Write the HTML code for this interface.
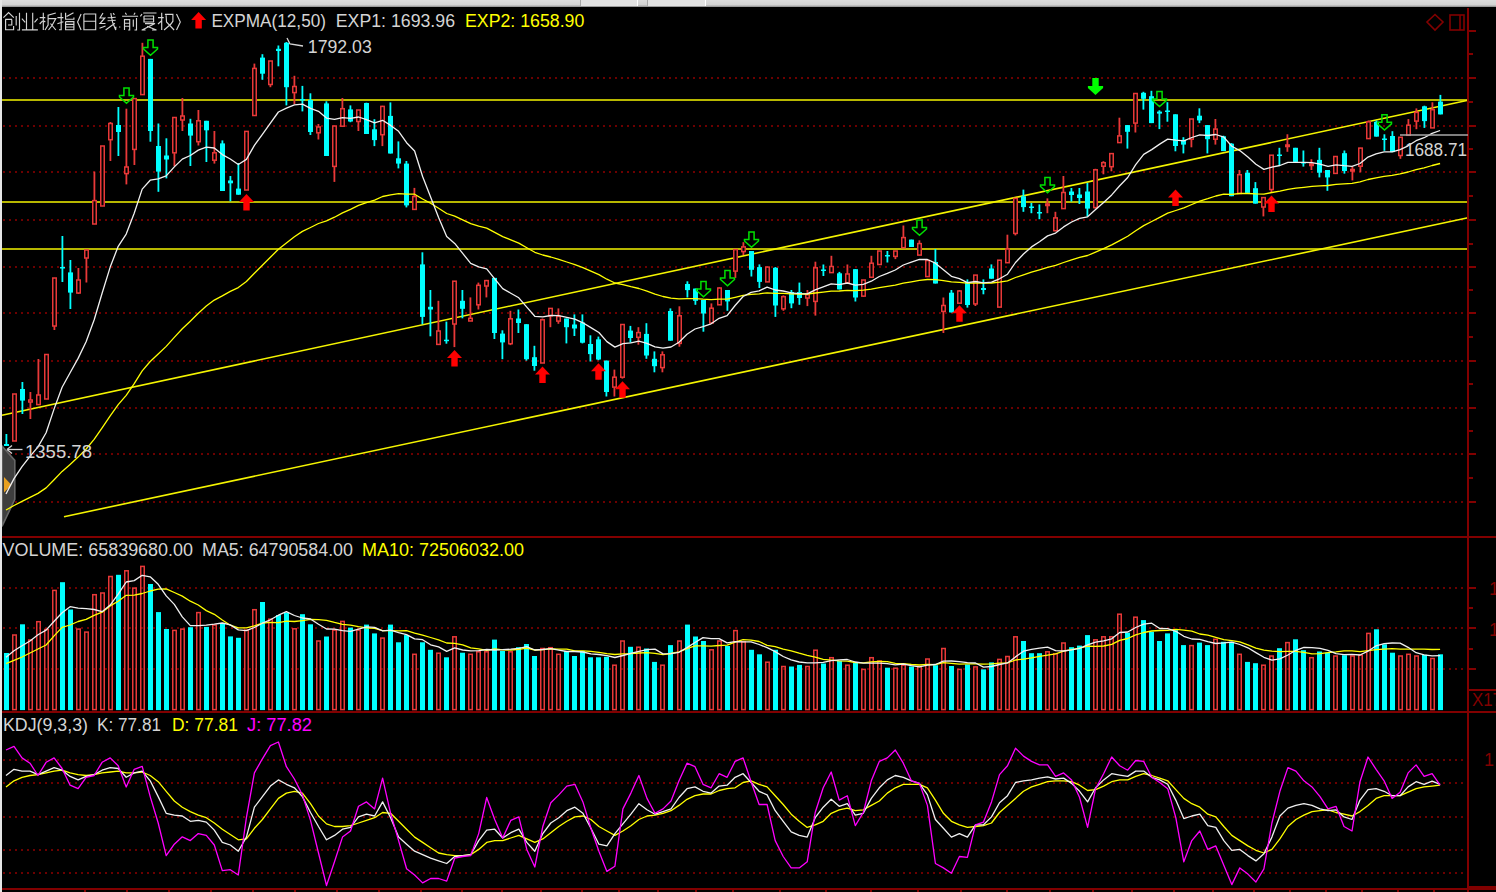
<!DOCTYPE html>
<html><head><meta charset="utf-8"><style>
html,body{margin:0;padding:0;background:#000;overflow:hidden;}
svg{display:block;}
</style></head><body>
<svg width="1496" height="892" viewBox="0 0 1496 892">
<defs><linearGradient id="topg" x1="0" y1="0" x2="0" y2="1"><stop offset="0" stop-color="#dcdcdc"/><stop offset="0.7" stop-color="#d2d2d2"/><stop offset="1" stop-color="#8a8a8a"/></linearGradient></defs>
<rect x="0" y="0" width="1496" height="892" fill="#000"/>
<g shape-rendering="crispEdges"><line x1="3" y1="78" x2="1466" y2="78" stroke="#6c0000" stroke-width="2" stroke-dasharray="2 4"/><line x1="3" y1="126" x2="1466" y2="126" stroke="#6c0000" stroke-width="2" stroke-dasharray="2 4"/><line x1="3" y1="172" x2="1466" y2="172" stroke="#6c0000" stroke-width="2" stroke-dasharray="2 4"/><line x1="3" y1="220" x2="1466" y2="220" stroke="#6c0000" stroke-width="2" stroke-dasharray="2 4"/><line x1="3" y1="267" x2="1466" y2="267" stroke="#6c0000" stroke-width="2" stroke-dasharray="2 4"/><line x1="3" y1="313" x2="1466" y2="313" stroke="#6c0000" stroke-width="2" stroke-dasharray="2 4"/><line x1="3" y1="361" x2="1466" y2="361" stroke="#6c0000" stroke-width="2" stroke-dasharray="2 4"/><line x1="3" y1="408" x2="1466" y2="408" stroke="#6c0000" stroke-width="2" stroke-dasharray="2 4"/><line x1="3" y1="454" x2="1466" y2="454" stroke="#6c0000" stroke-width="2" stroke-dasharray="2 4"/><line x1="3" y1="502" x2="1466" y2="502" stroke="#6c0000" stroke-width="2" stroke-dasharray="2 4"/><line x1="3" y1="588" x2="1466" y2="588" stroke="#6c0000" stroke-width="2" stroke-dasharray="2 4"/><line x1="3" y1="628" x2="1466" y2="628" stroke="#6c0000" stroke-width="2" stroke-dasharray="2 4"/><line x1="3" y1="669" x2="1466" y2="669" stroke="#6c0000" stroke-width="2" stroke-dasharray="2 4"/><line x1="3" y1="760" x2="1466" y2="760" stroke="#6c0000" stroke-width="2" stroke-dasharray="2 4"/><line x1="3" y1="783" x2="1466" y2="783" stroke="#6c0000" stroke-width="2" stroke-dasharray="2 4"/><line x1="3" y1="817" x2="1466" y2="817" stroke="#6c0000" stroke-width="2" stroke-dasharray="2 4"/><line x1="3" y1="850" x2="1466" y2="850" stroke="#6c0000" stroke-width="2" stroke-dasharray="2 4"/><line x1="3" y1="873" x2="1466" y2="873" stroke="#6c0000" stroke-width="2" stroke-dasharray="2 4"/></g>
<path d="M2,446 L14.8,460.4 L14.8,499.4 L2,526.3 Z" fill="#3e3e3e" stroke="#666" stroke-width="1.6"/>
<path d="M4,477 L11.5,485 L4,492.5 Z" fill="#e8a020"/>
<g><line x1="2" y1="100" x2="1468" y2="100" stroke="#f4f400" stroke-width="1.7"/><line x1="2" y1="202" x2="1468" y2="202" stroke="#f4f400" stroke-width="1.7"/><line x1="2" y1="249" x2="1468" y2="249" stroke="#f4f400" stroke-width="1.7"/></g>
<line x1="2" y1="415.2" x2="1468" y2="100.2" stroke="#f4f400" stroke-width="1.6"/>
<line x1="64" y1="516.7" x2="1468" y2="217.8" stroke="#f4f400" stroke-width="1.6"/>
<g><rect x="5.5" y="434.0" width="1.8" height="12.0" fill="#00ffff"/><rect x="4" y="444.0" width="5" height="2.0" fill="#00ffff"/><rect x="13.5" y="394.0" width="1.8" height="47.0" fill="#e83838"/><rect x="12.75" y="394.0" width="3.5" height="47.0" fill="#000" stroke="#e83838" stroke-width="1.5"/><rect x="21.5" y="382.0" width="1.8" height="32.0" fill="#00ffff"/><rect x="20" y="389.0" width="5" height="11.6" fill="#00ffff"/><rect x="29.5" y="392.0" width="1.8" height="27.0" fill="#e83838"/><rect x="28.75" y="400.0" width="3.5" height="2.0" fill="#000" stroke="#e83838" stroke-width="1.5"/><rect x="37.5" y="359.0" width="1.8" height="45.6" fill="#e83838"/><rect x="36.75" y="395.0" width="3.5" height="9.6" fill="#000" stroke="#e83838" stroke-width="1.5"/><rect x="45.5" y="354.5" width="1.8" height="44.5" fill="#e83838"/><rect x="44.75" y="354.5" width="3.5" height="44.5" fill="#000" stroke="#e83838" stroke-width="1.5"/><rect x="53.5" y="278.0" width="1.8" height="52.0" fill="#e83838"/><rect x="52.75" y="278.0" width="3.5" height="48.0" fill="#000" stroke="#e83838" stroke-width="1.5"/><rect x="61.5" y="236.0" width="1.8" height="46.0" fill="#00ffff"/><rect x="60" y="267.0" width="5" height="1.5" fill="#00ffff"/><rect x="69.5" y="260.0" width="1.8" height="49.0" fill="#00ffff"/><rect x="68" y="272.4" width="5" height="20.2" fill="#00ffff"/><rect x="77.5" y="268.0" width="1.8" height="26.0" fill="#e83838"/><rect x="76.75" y="280.0" width="3.5" height="13.0" fill="#000" stroke="#e83838" stroke-width="1.5"/><rect x="85.5" y="250.0" width="1.8" height="32.5" fill="#e83838"/><rect x="84.75" y="250.0" width="3.5" height="8.0" fill="#000" stroke="#e83838" stroke-width="1.5"/><rect x="93.5" y="171.6" width="1.8" height="52.4" fill="#e83838"/><rect x="92.75" y="200.6" width="3.5" height="23.4" fill="#000" stroke="#e83838" stroke-width="1.5"/><rect x="101.5" y="146.0" width="1.8" height="60.0" fill="#e83838"/><rect x="100.75" y="146.0" width="3.5" height="60.0" fill="#000" stroke="#e83838" stroke-width="1.5"/><rect x="109.5" y="122.0" width="1.8" height="39.0" fill="#e83838"/><rect x="108.75" y="123.5" width="3.5" height="16.2" fill="#000" stroke="#e83838" stroke-width="1.5"/><rect x="117.5" y="107.0" width="1.8" height="49.0" fill="#00ffff"/><rect x="116" y="125.0" width="5" height="7.0" fill="#00ffff"/><rect x="125.5" y="108.7" width="1.8" height="75.7" fill="#e83838"/><rect x="124.75" y="167.0" width="3.5" height="6.6" fill="#000" stroke="#e83838" stroke-width="1.5"/><rect x="133.5" y="98.6" width="1.8" height="66.4" fill="#e83838"/><rect x="132.75" y="98.6" width="3.5" height="50.8" fill="#000" stroke="#e83838" stroke-width="1.5"/><rect x="141.5" y="42.8" width="1.8" height="51.8" fill="#e83838"/><rect x="140.75" y="56.2" width="3.5" height="38.4" fill="#000" stroke="#e83838" stroke-width="1.5"/><rect x="149.5" y="58.9" width="1.8" height="82.8" fill="#00ffff"/><rect x="148" y="58.9" width="5" height="72.1" fill="#00ffff"/><rect x="157.5" y="123.5" width="1.8" height="68.3" fill="#00ffff"/><rect x="156" y="146.0" width="5" height="25.6" fill="#00ffff"/><rect x="165.5" y="138.3" width="1.8" height="40.1" fill="#00ffff"/><rect x="164" y="155.5" width="5" height="4.0" fill="#00ffff"/><rect x="173.5" y="117.5" width="1.8" height="48.7" fill="#e83838"/><rect x="172.75" y="117.5" width="3.5" height="35.3" fill="#000" stroke="#e83838" stroke-width="1.5"/><rect x="181.5" y="98.0" width="1.8" height="33.0" fill="#e83838"/><rect x="180.75" y="116.0" width="3.5" height="4.0" fill="#000" stroke="#e83838" stroke-width="1.5"/><rect x="189.5" y="118.8" width="1.8" height="47.2" fill="#00ffff"/><rect x="188" y="123.5" width="5" height="12.1" fill="#00ffff"/><rect x="197.5" y="110.0" width="1.8" height="35.5" fill="#e83838"/><rect x="196.75" y="120.8" width="3.5" height="20.9" fill="#000" stroke="#e83838" stroke-width="1.5"/><rect x="205.5" y="120.8" width="1.8" height="41.2" fill="#00ffff"/><rect x="204" y="120.8" width="5" height="9.5" fill="#00ffff"/><rect x="213.5" y="131.0" width="1.8" height="32.6" fill="#e83838"/><rect x="212.75" y="152.8" width="3.5" height="7.4" fill="#000" stroke="#e83838" stroke-width="1.5"/><rect x="221.5" y="140.4" width="1.8" height="50.6" fill="#00ffff"/><rect x="220" y="143.4" width="5" height="47.6" fill="#00ffff"/><rect x="229.5" y="176.0" width="1.8" height="25.3" fill="#00ffff"/><rect x="228" y="180.5" width="5" height="2.8" fill="#00ffff"/><rect x="237.5" y="163.0" width="1.8" height="31.7" fill="#00ffff"/><rect x="236" y="188.6" width="5" height="6.1" fill="#00ffff"/><rect x="245.5" y="131.4" width="1.8" height="58.6" fill="#e83838"/><rect x="244.75" y="131.4" width="3.5" height="58.6" fill="#000" stroke="#e83838" stroke-width="1.5"/><rect x="253.5" y="63.6" width="1.8" height="51.9" fill="#e83838"/><rect x="252.75" y="68.4" width="3.5" height="47.1" fill="#000" stroke="#e83838" stroke-width="1.5"/><rect x="261.5" y="54.2" width="1.8" height="25.6" fill="#00ffff"/><rect x="260" y="57.6" width="5" height="16.1" fill="#00ffff"/><rect x="269.5" y="61.0" width="1.8" height="26.2" fill="#e83838"/><rect x="268.75" y="61.0" width="3.5" height="23.5" fill="#000" stroke="#e83838" stroke-width="1.5"/><rect x="277.5" y="45.5" width="1.8" height="20.8" fill="#00ffff"/><rect x="276" y="48.8" width="5" height="2.2" fill="#00ffff"/><rect x="285.5" y="42.0" width="1.8" height="63.4" fill="#00ffff"/><rect x="284" y="42.8" width="5" height="44.4" fill="#00ffff"/><rect x="293.5" y="75.8" width="1.8" height="28.2" fill="#e83838"/><rect x="292.75" y="86.5" width="3.5" height="6.1" fill="#000" stroke="#e83838" stroke-width="1.5"/><rect x="301.5" y="85.9" width="1.8" height="25.5" fill="#00ffff"/><rect x="300" y="99.0" width="5" height="1.5" fill="#00ffff"/><rect x="309.5" y="93.3" width="1.8" height="41.7" fill="#00ffff"/><rect x="308" y="100.0" width="5" height="32.0" fill="#00ffff"/><rect x="317.5" y="124.0" width="1.8" height="15.5" fill="#e83838"/><rect x="316.75" y="127.0" width="3.5" height="5.8" fill="#000" stroke="#e83838" stroke-width="1.5"/><rect x="325.5" y="101.3" width="1.8" height="54.7" fill="#00ffff"/><rect x="324" y="103.4" width="5" height="52.6" fill="#00ffff"/><rect x="333.5" y="126.0" width="1.8" height="55.9" fill="#e83838"/><rect x="332.75" y="126.0" width="3.5" height="40.4" fill="#000" stroke="#e83838" stroke-width="1.5"/><rect x="341.5" y="98.0" width="1.8" height="28.2" fill="#e83838"/><rect x="340.75" y="108.7" width="3.5" height="17.5" fill="#000" stroke="#e83838" stroke-width="1.5"/><rect x="349.5" y="105.4" width="1.8" height="16.8" fill="#00ffff"/><rect x="348" y="109.4" width="5" height="12.1" fill="#00ffff"/><rect x="357.5" y="110.0" width="1.8" height="21.0" fill="#e83838"/><rect x="356.75" y="110.0" width="3.5" height="11.5" fill="#000" stroke="#e83838" stroke-width="1.5"/><rect x="365.5" y="102.7" width="1.8" height="31.3" fill="#00ffff"/><rect x="364" y="103.0" width="5" height="31.0" fill="#00ffff"/><rect x="373.5" y="119.2" width="1.8" height="26.9" fill="#00ffff"/><rect x="372" y="129.3" width="5" height="10.8" fill="#00ffff"/><rect x="381.5" y="105.8" width="1.8" height="40.3" fill="#e83838"/><rect x="380.75" y="106.4" width="3.5" height="28.3" fill="#000" stroke="#e83838" stroke-width="1.5"/><rect x="389.5" y="102.4" width="1.8" height="51.1" fill="#00ffff"/><rect x="388" y="115.9" width="5" height="37.6" fill="#00ffff"/><rect x="397.5" y="141.4" width="1.8" height="27.0" fill="#00ffff"/><rect x="396" y="158.3" width="5" height="5.3" fill="#00ffff"/><rect x="405.5" y="161.0" width="1.8" height="46.4" fill="#00ffff"/><rect x="404" y="163.6" width="5" height="41.8" fill="#00ffff"/><rect x="413.5" y="187.9" width="1.8" height="22.1" fill="#e83838"/><rect x="412.75" y="196.6" width="3.5" height="12.8" fill="#000" stroke="#e83838" stroke-width="1.5"/><rect x="421.5" y="252.3" width="1.8" height="72.0" fill="#00ffff"/><rect x="420" y="264.4" width="5" height="52.5" fill="#00ffff"/><rect x="429.5" y="290.0" width="1.8" height="46.3" fill="#00ffff"/><rect x="428" y="306.8" width="5" height="2.7" fill="#00ffff"/><rect x="437.5" y="300.8" width="1.8" height="43.6" fill="#e83838"/><rect x="436.75" y="331.0" width="3.5" height="13.4" fill="#000" stroke="#e83838" stroke-width="1.5"/><rect x="445.5" y="321.6" width="1.8" height="22.1" fill="#00ffff"/><rect x="444" y="339.7" width="5" height="1.5" fill="#00ffff"/><rect x="453.5" y="281.2" width="1.8" height="65.9" fill="#e83838"/><rect x="452.75" y="281.2" width="3.5" height="42.8" fill="#000" stroke="#e83838" stroke-width="1.5"/><rect x="461.5" y="290.0" width="1.8" height="28.3" fill="#00ffff"/><rect x="460" y="300.8" width="5" height="8.0" fill="#00ffff"/><rect x="469.5" y="297.4" width="1.8" height="23.6" fill="#e83838"/><rect x="468.75" y="318.3" width="3.5" height="2.7" fill="#000" stroke="#e83838" stroke-width="1.5"/><rect x="477.5" y="282.6" width="1.8" height="26.9" fill="#e83838"/><rect x="476.75" y="285.3" width="3.5" height="19.5" fill="#000" stroke="#e83838" stroke-width="1.5"/><rect x="485.5" y="279.9" width="1.8" height="17.5" fill="#e83838"/><rect x="484.75" y="280.6" width="3.5" height="5.4" fill="#000" stroke="#e83838" stroke-width="1.5"/><rect x="493.5" y="277.9" width="1.8" height="61.1" fill="#00ffff"/><rect x="492" y="277.9" width="5" height="55.1" fill="#00ffff"/><rect x="501.5" y="330.3" width="1.8" height="28.9" fill="#00ffff"/><rect x="500" y="333.6" width="5" height="8.8" fill="#00ffff"/><rect x="509.5" y="310.8" width="1.8" height="34.3" fill="#e83838"/><rect x="508.75" y="318.8" width="3.5" height="24.9" fill="#000" stroke="#e83838" stroke-width="1.5"/><rect x="517.5" y="309.5" width="1.8" height="23.5" fill="#00ffff"/><rect x="516" y="318.5" width="5" height="4.5" fill="#00ffff"/><rect x="525.5" y="324.2" width="1.8" height="36.4" fill="#00ffff"/><rect x="524" y="324.2" width="5" height="35.0" fill="#00ffff"/><rect x="533.5" y="345.8" width="1.8" height="24.9" fill="#00ffff"/><rect x="532" y="357.2" width="5" height="8.8" fill="#00ffff"/><rect x="541.5" y="318.5" width="1.8" height="44.5" fill="#e83838"/><rect x="540.75" y="319.8" width="3.5" height="43.2" fill="#000" stroke="#e83838" stroke-width="1.5"/><rect x="549.5" y="308.4" width="1.8" height="18.8" fill="#e83838"/><rect x="548.75" y="308.4" width="3.5" height="7.4" fill="#000" stroke="#e83838" stroke-width="1.5"/><rect x="557.5" y="308.4" width="1.8" height="15.4" fill="#e83838"/><rect x="556.75" y="316.4" width="3.5" height="4.7" fill="#000" stroke="#e83838" stroke-width="1.5"/><rect x="565.5" y="318.5" width="1.8" height="24.9" fill="#00ffff"/><rect x="564" y="318.5" width="5" height="8.7" fill="#00ffff"/><rect x="573.5" y="314.4" width="1.8" height="21.6" fill="#00ffff"/><rect x="572" y="324.5" width="5" height="4.0" fill="#00ffff"/><rect x="581.5" y="314.4" width="1.8" height="29.0" fill="#00ffff"/><rect x="580" y="322.5" width="5" height="20.2" fill="#00ffff"/><rect x="589.5" y="335.3" width="1.8" height="26.2" fill="#00ffff"/><rect x="588" y="344.0" width="5" height="10.1" fill="#00ffff"/><rect x="597.5" y="336.6" width="1.8" height="23.6" fill="#00ffff"/><rect x="596" y="339.3" width="5" height="20.2" fill="#00ffff"/><rect x="605.5" y="360.6" width="1.8" height="35.9" fill="#00ffff"/><rect x="604" y="360.6" width="5" height="31.4" fill="#00ffff"/><rect x="613.5" y="369.6" width="1.8" height="26.9" fill="#e83838"/><rect x="612.75" y="377.2" width="3.5" height="9.9" fill="#000" stroke="#e83838" stroke-width="1.5"/><rect x="621.5" y="324.5" width="1.8" height="54.1" fill="#e83838"/><rect x="620.75" y="324.5" width="3.5" height="52.7" fill="#000" stroke="#e83838" stroke-width="1.5"/><rect x="629.5" y="325.9" width="1.8" height="16.8" fill="#00ffff"/><rect x="628" y="330.6" width="5" height="7.4" fill="#00ffff"/><rect x="637.5" y="327.2" width="1.8" height="17.5" fill="#e83838"/><rect x="636.75" y="332.6" width="3.5" height="4.7" fill="#000" stroke="#e83838" stroke-width="1.5"/><rect x="645.5" y="323.2" width="1.8" height="35.6" fill="#00ffff"/><rect x="644" y="333.9" width="5" height="21.6" fill="#00ffff"/><rect x="653.5" y="351.4" width="1.8" height="20.9" fill="#00ffff"/><rect x="652" y="358.8" width="5" height="7.4" fill="#00ffff"/><rect x="661.5" y="351.4" width="1.8" height="20.9" fill="#e83838"/><rect x="660.75" y="354.8" width="3.5" height="12.8" fill="#000" stroke="#e83838" stroke-width="1.5"/><rect x="669.5" y="308.4" width="1.8" height="32.3" fill="#00ffff"/><rect x="668" y="311.0" width="5" height="29.7" fill="#00ffff"/><rect x="678.5" y="306.3" width="1.8" height="40.4" fill="#e83838"/><rect x="677.75" y="315.8" width="3.5" height="27.6" fill="#000" stroke="#e83838" stroke-width="1.5"/><rect x="686.5" y="281.3" width="1.8" height="16.2" fill="#00ffff"/><rect x="685" y="284.0" width="5" height="6.1" fill="#00ffff"/><rect x="694.5" y="288.6" width="1.8" height="16.2" fill="#00ffff"/><rect x="693" y="288.6" width="5" height="12.2" fill="#00ffff"/><rect x="702.5" y="300.0" width="1.8" height="31.7" fill="#00ffff"/><rect x="701" y="300.0" width="5" height="13.5" fill="#00ffff"/><rect x="710.5" y="303.4" width="1.8" height="19.6" fill="#e83838"/><rect x="709.75" y="308.2" width="3.5" height="14.8" fill="#000" stroke="#e83838" stroke-width="1.5"/><rect x="718.5" y="287.3" width="1.8" height="17.5" fill="#e83838"/><rect x="717.75" y="288.0" width="3.5" height="16.8" fill="#000" stroke="#e83838" stroke-width="1.5"/><rect x="726.5" y="290.0" width="1.8" height="20.8" fill="#00ffff"/><rect x="725" y="290.0" width="5" height="11.4" fill="#00ffff"/><rect x="734.5" y="249.6" width="1.8" height="28.3" fill="#e83838"/><rect x="733.75" y="249.6" width="3.5" height="21.5" fill="#000" stroke="#e83838" stroke-width="1.5"/><rect x="742.5" y="242.2" width="1.8" height="12.8" fill="#e83838"/><rect x="741.75" y="246.9" width="3.5" height="4.7" fill="#000" stroke="#e83838" stroke-width="1.5"/><rect x="750.5" y="251.0" width="1.8" height="25.5" fill="#00ffff"/><rect x="749" y="251.0" width="5" height="18.8" fill="#00ffff"/><rect x="758.5" y="264.4" width="1.8" height="23.6" fill="#00ffff"/><rect x="757" y="267.1" width="5" height="14.8" fill="#00ffff"/><rect x="766.5" y="266.4" width="1.8" height="15.5" fill="#e83838"/><rect x="765.75" y="267.1" width="3.5" height="14.8" fill="#000" stroke="#e83838" stroke-width="1.5"/><rect x="774.5" y="267.1" width="1.8" height="49.8" fill="#00ffff"/><rect x="773" y="267.8" width="5" height="37.7" fill="#00ffff"/><rect x="782.5" y="295.4" width="1.8" height="15.4" fill="#e83838"/><rect x="781.75" y="296.7" width="3.5" height="12.1" fill="#000" stroke="#e83838" stroke-width="1.5"/><rect x="790.5" y="290.0" width="1.8" height="18.2" fill="#00ffff"/><rect x="789" y="292.0" width="5" height="11.4" fill="#00ffff"/><rect x="798.5" y="282.6" width="1.8" height="22.2" fill="#00ffff"/><rect x="797" y="292.0" width="5" height="6.0" fill="#00ffff"/><rect x="806.5" y="290.0" width="1.8" height="16.1" fill="#e83838"/><rect x="805.75" y="294.7" width="3.5" height="3.3" fill="#000" stroke="#e83838" stroke-width="1.5"/><rect x="814.5" y="261.7" width="1.8" height="53.9" fill="#e83838"/><rect x="813.75" y="267.8" width="3.5" height="33.6" fill="#000" stroke="#e83838" stroke-width="1.5"/><rect x="822.5" y="264.5" width="1.8" height="11.5" fill="#00ffff"/><rect x="821" y="269.5" width="5" height="1.5" fill="#00ffff"/><rect x="830.5" y="255.8" width="1.8" height="16.8" fill="#e83838"/><rect x="829.75" y="266.5" width="3.5" height="6.1" fill="#000" stroke="#e83838" stroke-width="1.5"/><rect x="838.5" y="271.9" width="1.8" height="17.5" fill="#00ffff"/><rect x="837" y="273.3" width="5" height="16.1" fill="#00ffff"/><rect x="846.5" y="264.5" width="1.8" height="18.2" fill="#e83838"/><rect x="845.75" y="274.0" width="3.5" height="8.7" fill="#000" stroke="#e83838" stroke-width="1.5"/><rect x="854.5" y="269.2" width="1.8" height="32.3" fill="#00ffff"/><rect x="853" y="269.2" width="5" height="28.3" fill="#00ffff"/><rect x="862.5" y="280.0" width="1.8" height="16.8" fill="#e83838"/><rect x="861.75" y="280.0" width="3.5" height="16.1" fill="#000" stroke="#e83838" stroke-width="1.5"/><rect x="870.5" y="255.8" width="1.8" height="21.5" fill="#e83838"/><rect x="869.75" y="263.2" width="3.5" height="14.1" fill="#000" stroke="#e83838" stroke-width="1.5"/><rect x="878.5" y="251.0" width="1.8" height="13.5" fill="#e83838"/><rect x="877.75" y="251.0" width="3.5" height="13.5" fill="#000" stroke="#e83838" stroke-width="1.5"/><rect x="886.5" y="251.0" width="1.8" height="11.5" fill="#00ffff"/><rect x="885" y="255.0" width="5" height="1.5" fill="#00ffff"/><rect x="894.5" y="251.0" width="1.8" height="8.1" fill="#e83838"/><rect x="893.75" y="251.0" width="3.5" height="5.4" fill="#000" stroke="#e83838" stroke-width="1.5"/><rect x="902.5" y="225.5" width="1.8" height="22.2" fill="#e83838"/><rect x="901.75" y="237.6" width="3.5" height="10.1" fill="#000" stroke="#e83838" stroke-width="1.5"/><rect x="910.5" y="239.6" width="1.8" height="7.4" fill="#00ffff"/><rect x="909" y="239.6" width="5" height="7.4" fill="#00ffff"/><rect x="918.5" y="240.3" width="1.8" height="14.8" fill="#e83838"/><rect x="917.75" y="243.6" width="3.5" height="11.5" fill="#000" stroke="#e83838" stroke-width="1.5"/><rect x="926.5" y="260.5" width="1.8" height="16.1" fill="#e83838"/><rect x="925.75" y="260.5" width="3.5" height="16.1" fill="#000" stroke="#e83838" stroke-width="1.5"/><rect x="934.5" y="249.0" width="1.8" height="34.5" fill="#00ffff"/><rect x="933" y="262.0" width="5" height="21.5" fill="#00ffff"/><rect x="942.5" y="297.5" width="1.8" height="35.5" fill="#e83838"/><rect x="941.75" y="305.5" width="3.5" height="5.9" fill="#000" stroke="#e83838" stroke-width="1.5"/><rect x="950.5" y="290.0" width="1.8" height="22.4" fill="#00ffff"/><rect x="949" y="292.7" width="5" height="19.7" fill="#00ffff"/><rect x="958.5" y="290.0" width="1.8" height="13.2" fill="#e83838"/><rect x="957.75" y="291.0" width="3.5" height="12.2" fill="#000" stroke="#e83838" stroke-width="1.5"/><rect x="966.5" y="279.4" width="1.8" height="28.2" fill="#00ffff"/><rect x="965" y="282.0" width="5" height="23.0" fill="#00ffff"/><rect x="974.5" y="275.0" width="1.8" height="31.0" fill="#e83838"/><rect x="973.75" y="275.1" width="3.5" height="28.8" fill="#000" stroke="#e83838" stroke-width="1.5"/><rect x="982.5" y="279.4" width="1.8" height="14.9" fill="#00ffff"/><rect x="981" y="288.0" width="5" height="2.0" fill="#00ffff"/><rect x="990.5" y="264.4" width="1.8" height="14.3" fill="#00ffff"/><rect x="989" y="268.5" width="5" height="10.2" fill="#00ffff"/><rect x="998.5" y="260.2" width="1.8" height="46.9" fill="#e83838"/><rect x="997.75" y="260.2" width="3.5" height="46.9" fill="#000" stroke="#e83838" stroke-width="1.5"/><rect x="1006.5" y="234.7" width="1.8" height="28.0" fill="#e83838"/><rect x="1005.75" y="249.0" width="3.5" height="13.7" fill="#000" stroke="#e83838" stroke-width="1.5"/><rect x="1014.5" y="198.4" width="1.8" height="37.0" fill="#e83838"/><rect x="1013.75" y="198.4" width="3.5" height="35.0" fill="#000" stroke="#e83838" stroke-width="1.5"/><rect x="1022.5" y="189.6" width="1.8" height="22.2" fill="#00ffff"/><rect x="1021" y="196.3" width="5" height="10.8" fill="#00ffff"/><rect x="1030.5" y="203.0" width="1.8" height="10.2" fill="#00ffff"/><rect x="1029" y="206.5" width="5" height="1.5" fill="#00ffff"/><rect x="1038.5" y="204.4" width="1.8" height="14.8" fill="#00ffff"/><rect x="1037" y="212.0" width="5" height="1.5" fill="#00ffff"/><rect x="1046.5" y="198.4" width="1.8" height="14.8" fill="#e83838"/><rect x="1045.75" y="204.0" width="3.5" height="1.5" fill="#000" stroke="#e83838" stroke-width="1.5"/><rect x="1054.5" y="211.8" width="1.8" height="19.5" fill="#e83838"/><rect x="1053.75" y="217.9" width="3.5" height="12.8" fill="#000" stroke="#e83838" stroke-width="1.5"/><rect x="1062.5" y="176.0" width="1.8" height="32.6" fill="#e83838"/><rect x="1061.75" y="192.5" width="3.5" height="16.1" fill="#000" stroke="#e83838" stroke-width="1.5"/><rect x="1070.5" y="188.0" width="1.8" height="13.6" fill="#00ffff"/><rect x="1069" y="191.5" width="5" height="3.5" fill="#00ffff"/><rect x="1078.5" y="188.0" width="1.8" height="16.0" fill="#00ffff"/><rect x="1077" y="194.5" width="5" height="3.5" fill="#00ffff"/><rect x="1086.5" y="182.9" width="1.8" height="33.8" fill="#00ffff"/><rect x="1085" y="191.5" width="5" height="17.1" fill="#00ffff"/><rect x="1094.5" y="168.8" width="1.8" height="39.8" fill="#e83838"/><rect x="1093.75" y="169.8" width="3.5" height="37.8" fill="#000" stroke="#e83838" stroke-width="1.5"/><rect x="1102.5" y="161.2" width="1.8" height="13.1" fill="#e83838"/><rect x="1101.75" y="162.7" width="3.5" height="3.5" fill="#000" stroke="#e83838" stroke-width="1.5"/><rect x="1110.5" y="153.6" width="1.8" height="17.7" fill="#e83838"/><rect x="1109.75" y="153.6" width="3.5" height="13.1" fill="#000" stroke="#e83838" stroke-width="1.5"/><rect x="1118.5" y="117.7" width="1.8" height="24.9" fill="#e83838"/><rect x="1117.75" y="135.9" width="3.5" height="6.7" fill="#000" stroke="#e83838" stroke-width="1.5"/><rect x="1126.5" y="125.1" width="1.8" height="23.5" fill="#00ffff"/><rect x="1125" y="125.1" width="5" height="6.7" fill="#00ffff"/><rect x="1134.5" y="93.5" width="1.8" height="39.0" fill="#e83838"/><rect x="1133.75" y="93.5" width="3.5" height="29.6" fill="#000" stroke="#e83838" stroke-width="1.5"/><rect x="1142.5" y="91.8" width="1.8" height="17.8" fill="#00ffff"/><rect x="1141" y="92.8" width="5" height="6.0" fill="#00ffff"/><rect x="1150.5" y="90.8" width="1.8" height="32.3" fill="#00ffff"/><rect x="1149" y="96.2" width="5" height="26.9" fill="#00ffff"/><rect x="1158.5" y="110.3" width="1.8" height="18.8" fill="#00ffff"/><rect x="1157" y="111.6" width="5" height="2.0" fill="#00ffff"/><rect x="1166.5" y="102.2" width="1.8" height="19.5" fill="#00ffff"/><rect x="1165" y="110.5" width="5" height="1.5" fill="#00ffff"/><rect x="1174.5" y="114.3" width="1.8" height="37.0" fill="#00ffff"/><rect x="1173" y="114.3" width="5" height="31.7" fill="#00ffff"/><rect x="1182.5" y="137.2" width="1.8" height="16.2" fill="#00ffff"/><rect x="1181" y="139.9" width="5" height="4.7" fill="#00ffff"/><rect x="1190.5" y="119.0" width="1.8" height="28.3" fill="#e83838"/><rect x="1189.75" y="119.0" width="3.5" height="20.2" fill="#000" stroke="#e83838" stroke-width="1.5"/><rect x="1198.5" y="108.3" width="1.8" height="14.8" fill="#00ffff"/><rect x="1197" y="115.7" width="5" height="4.7" fill="#00ffff"/><rect x="1206.5" y="125.1" width="1.8" height="28.3" fill="#00ffff"/><rect x="1205" y="125.1" width="5" height="14.1" fill="#00ffff"/><rect x="1214.5" y="119.0" width="1.8" height="25.6" fill="#e83838"/><rect x="1213.75" y="129.1" width="3.5" height="10.1" fill="#000" stroke="#e83838" stroke-width="1.5"/><rect x="1222.5" y="135.7" width="1.8" height="15.4" fill="#00ffff"/><rect x="1221" y="136.3" width="5" height="14.8" fill="#00ffff"/><rect x="1230.5" y="143.1" width="1.8" height="53.1" fill="#00ffff"/><rect x="1229" y="143.7" width="5" height="52.5" fill="#00ffff"/><rect x="1238.5" y="170.0" width="1.8" height="23.5" fill="#e83838"/><rect x="1237.75" y="174.7" width="3.5" height="18.8" fill="#000" stroke="#e83838" stroke-width="1.5"/><rect x="1246.5" y="170.0" width="1.8" height="22.9" fill="#00ffff"/><rect x="1245" y="172.7" width="5" height="20.2" fill="#00ffff"/><rect x="1254.5" y="182.1" width="1.8" height="21.5" fill="#00ffff"/><rect x="1253" y="188.2" width="5" height="15.4" fill="#00ffff"/><rect x="1262.5" y="197.6" width="1.8" height="18.8" fill="#e83838"/><rect x="1261.75" y="197.6" width="3.5" height="9.4" fill="#000" stroke="#e83838" stroke-width="1.5"/><rect x="1270.5" y="155.2" width="1.8" height="37.7" fill="#e83838"/><rect x="1269.75" y="155.2" width="3.5" height="34.3" fill="#000" stroke="#e83838" stroke-width="1.5"/><rect x="1278.5" y="147.8" width="1.8" height="18.2" fill="#00ffff"/><rect x="1277" y="154.5" width="5" height="1.5" fill="#00ffff"/><rect x="1286.5" y="134.3" width="1.8" height="17.5" fill="#e83838"/><rect x="1285.75" y="145.0" width="3.5" height="1.5" fill="#000" stroke="#e83838" stroke-width="1.5"/><rect x="1294.5" y="147.8" width="1.8" height="14.1" fill="#00ffff"/><rect x="1293" y="147.8" width="5" height="14.1" fill="#00ffff"/><rect x="1302.5" y="150.5" width="1.8" height="16.1" fill="#00ffff"/><rect x="1301" y="162.0" width="5" height="1.5" fill="#00ffff"/><rect x="1310.5" y="159.2" width="1.8" height="10.8" fill="#e83838"/><rect x="1309.75" y="164.0" width="3.5" height="1.5" fill="#000" stroke="#e83838" stroke-width="1.5"/><rect x="1318.5" y="147.8" width="1.8" height="29.6" fill="#00ffff"/><rect x="1317" y="159.9" width="5" height="12.8" fill="#00ffff"/><rect x="1326.5" y="170.0" width="1.8" height="20.8" fill="#00ffff"/><rect x="1325" y="170.0" width="5" height="7.4" fill="#00ffff"/><rect x="1334.5" y="156.5" width="1.8" height="16.9" fill="#e83838"/><rect x="1333.75" y="156.5" width="3.5" height="16.9" fill="#000" stroke="#e83838" stroke-width="1.5"/><rect x="1343.5" y="150.5" width="1.8" height="23.1" fill="#00ffff"/><rect x="1342" y="153.2" width="5" height="17.8" fill="#00ffff"/><rect x="1351.5" y="166.9" width="1.8" height="13.5" fill="#e83838"/><rect x="1350.75" y="169.5" width="3.5" height="1.5" fill="#000" stroke="#e83838" stroke-width="1.5"/><rect x="1359.5" y="147.8" width="1.8" height="24.5" fill="#e83838"/><rect x="1358.75" y="148.1" width="3.5" height="18.1" fill="#000" stroke="#e83838" stroke-width="1.5"/><rect x="1367.5" y="120.5" width="1.8" height="18.1" fill="#e83838"/><rect x="1366.75" y="121.8" width="3.5" height="16.8" fill="#000" stroke="#e83838" stroke-width="1.5"/><rect x="1375.5" y="120.5" width="1.8" height="16.1" fill="#00ffff"/><rect x="1374" y="121.8" width="5" height="14.8" fill="#00ffff"/><rect x="1383.5" y="134.3" width="1.8" height="16.5" fill="#00ffff"/><rect x="1382" y="138.5" width="5" height="1.5" fill="#00ffff"/><rect x="1391.5" y="131.2" width="1.8" height="20.9" fill="#00ffff"/><rect x="1390" y="136.0" width="5" height="16.1" fill="#00ffff"/><rect x="1399.5" y="137.3" width="1.8" height="21.5" fill="#e83838"/><rect x="1398.75" y="137.3" width="3.5" height="18.2" fill="#000" stroke="#e83838" stroke-width="1.5"/><rect x="1407.5" y="119.1" width="1.8" height="16.2" fill="#e83838"/><rect x="1406.75" y="125.2" width="3.5" height="10.1" fill="#000" stroke="#e83838" stroke-width="1.5"/><rect x="1415.5" y="108.4" width="1.8" height="20.8" fill="#e83838"/><rect x="1414.75" y="112.4" width="3.5" height="8.7" fill="#000" stroke="#e83838" stroke-width="1.5"/><rect x="1423.5" y="105.7" width="1.8" height="22.2" fill="#00ffff"/><rect x="1422" y="106.3" width="5" height="14.8" fill="#00ffff"/><rect x="1431.5" y="102.3" width="1.8" height="25.6" fill="#e83838"/><rect x="1430.75" y="109.7" width="3.5" height="18.2" fill="#000" stroke="#e83838" stroke-width="1.5"/><rect x="1439.5" y="94.9" width="1.8" height="19.5" fill="#00ffff"/><rect x="1438" y="101.6" width="5" height="12.8" fill="#00ffff"/></g>
<polyline points="6.0,510.0 14.0,505.5 22.0,501.3 30.0,497.4 38.0,493.4 46.1,487.9 54.1,479.7 62.1,471.4 70.1,464.4 78.1,457.1 86.1,449.0 94.1,439.3 102.1,427.8 110.2,415.8 118.2,404.7 126.2,395.4 134.2,383.7 142.2,370.9 150.2,361.5 158.2,354.0 166.2,346.4 174.3,337.4 182.3,328.8 190.3,321.2 198.3,313.3 206.3,306.1 214.3,300.1 222.3,295.9 230.3,291.4 238.3,287.6 246.4,281.5 254.4,273.2 262.4,265.3 270.4,257.3 278.4,249.2 286.4,242.9 294.4,236.7 302.4,231.4 310.5,227.5 318.5,223.5 326.5,220.9 334.5,217.2 342.5,212.9 350.5,209.3 358.5,205.4 366.5,202.6 374.6,200.2 382.6,196.5 390.6,194.8 398.6,193.6 406.6,194.1 414.6,194.2 422.6,199.0 430.6,203.3 438.6,208.3 446.7,213.5 454.7,216.2 462.7,219.8 470.7,223.6 478.7,226.1 486.7,228.2 494.7,232.3 502.7,236.6 510.8,239.9 518.8,243.1 526.8,247.7 534.8,252.3 542.8,255.0 550.8,257.0 558.8,259.4 566.8,262.0 574.9,264.6 582.9,267.7 590.9,271.1 598.9,274.6 606.9,279.2 614.9,283.0 622.9,284.6 630.9,286.7 638.9,288.5 647.0,291.2 655.0,294.1 663.0,296.5 671.0,298.2 679.0,298.9 687.0,298.6 695.0,298.6 703.0,299.2 711.1,299.6 719.1,299.1 727.1,299.2 735.1,297.3 743.1,295.3 751.1,294.3 759.1,293.8 767.1,292.8 775.2,293.3 783.2,293.4 791.2,293.8 799.2,294.0 807.2,294.0 815.2,293.0 823.2,292.1 831.2,291.1 839.2,291.0 847.3,290.4 855.3,290.6 863.3,290.2 871.3,289.2 879.3,287.7 887.3,286.4 895.3,285.1 903.3,283.2 911.4,281.8 919.4,280.3 927.4,279.5 935.4,279.7 943.4,280.7 951.4,281.9 959.4,282.3 967.4,283.2 975.5,282.8 983.5,283.1 991.5,283.0 999.5,282.1 1007.5,280.8 1015.5,277.5 1023.5,274.8 1031.5,272.2 1039.5,269.8 1047.6,267.3 1055.6,265.3 1063.6,262.5 1071.6,259.8 1079.6,257.4 1087.6,255.5 1095.6,252.1 1103.6,248.6 1111.7,244.9 1119.7,240.6 1127.7,236.3 1135.7,230.7 1143.7,225.6 1151.7,221.5 1159.7,217.3 1167.7,213.2 1175.8,210.5 1183.8,207.9 1191.8,204.5 1199.8,201.2 1207.8,198.7 1215.8,196.0 1223.8,194.2 1231.8,194.3 1239.8,193.5 1247.9,193.5 1255.9,193.9 1263.9,194.1 1271.9,192.5 1279.9,191.1 1287.9,189.3 1295.9,188.2 1303.9,187.3 1312.0,186.3 1320.0,185.8 1328.0,185.5 1336.0,184.3 1344.0,183.8 1352.0,183.3 1360.0,181.9 1368.0,179.5 1376.1,177.8 1384.1,176.4 1392.1,175.4 1400.1,173.9 1408.1,172.0 1416.1,169.7 1424.1,167.8 1432.1,165.5 1440.1,163.5" fill="none" stroke="#ffff00" stroke-width="1.3" stroke-linejoin="round"/>
<polyline points="6.0,494.0 14.0,478.6 22.0,466.6 30.0,456.4 38.0,446.9 46.1,432.7 54.1,408.9 62.1,387.2 70.1,372.7 78.1,358.4 86.1,341.7 94.1,320.0 102.1,293.2 110.2,267.1 118.2,246.3 126.2,234.1 134.2,213.3 142.2,189.1 150.2,180.2 158.2,178.9 166.2,175.9 174.3,166.9 182.3,159.1 190.3,155.5 198.3,150.1 206.3,147.1 214.3,148.0 222.3,154.6 230.3,159.0 238.3,164.5 246.4,159.4 254.4,145.4 262.4,134.4 270.4,123.1 278.4,112.0 286.4,108.2 294.4,104.8 302.4,104.1 310.5,108.4 318.5,111.3 326.5,118.1 334.5,119.3 342.5,117.7 350.5,118.3 358.5,117.0 366.5,119.6 374.6,122.8 382.6,120.3 390.6,125.4 398.6,131.3 406.6,142.7 414.6,151.0 422.6,176.5 430.6,197.0 438.6,217.6 446.7,236.5 454.7,243.4 462.7,253.4 470.7,263.4 478.7,266.8 486.7,268.9 494.7,278.8 502.7,288.6 510.8,293.2 518.8,297.8 526.8,307.2 534.8,316.3 542.8,316.8 550.8,315.5 558.8,315.7 566.8,317.4 574.9,319.1 582.9,322.8 590.9,327.6 598.9,332.5 606.9,341.6 614.9,347.1 622.9,343.6 630.9,342.8 638.9,341.2 647.0,343.4 655.0,346.9 663.0,348.1 671.0,347.0 679.0,342.2 687.0,334.2 695.0,329.0 703.0,326.6 711.1,323.8 719.1,318.3 727.1,315.7 735.1,305.5 743.1,296.5 751.1,292.4 759.1,290.8 767.1,287.1 775.2,290.0 783.2,291.0 791.2,292.9 799.2,293.7 807.2,293.8 815.2,289.8 823.2,286.9 831.2,283.8 839.2,284.7 847.3,283.0 855.3,285.2 863.3,284.4 871.3,281.2 879.3,276.5 887.3,273.4 895.3,270.0 903.3,265.0 911.4,262.2 919.4,259.4 927.4,259.5 935.4,263.2 943.4,269.7 951.4,276.3 959.4,278.6 967.4,282.6 975.5,281.5 983.5,282.8 991.5,282.2 999.5,278.8 1007.5,274.2 1015.5,262.5 1023.5,254.0 1031.5,246.9 1039.5,241.7 1047.6,235.9 1055.6,233.1 1063.6,226.9 1071.6,222.0 1079.6,218.3 1087.6,216.8 1095.6,209.6 1103.6,202.4 1111.7,194.9 1119.7,185.8 1127.7,177.5 1135.7,164.6 1143.7,154.4 1151.7,149.6 1159.7,144.1 1167.7,139.1 1175.8,140.1 1183.8,140.8 1191.8,137.5 1199.8,134.8 1207.8,135.5 1215.8,134.5 1223.8,137.1 1231.8,146.2 1239.8,150.6 1247.9,157.1 1255.9,164.2 1263.9,169.4 1271.9,167.2 1279.9,165.5 1287.9,162.3 1295.9,162.3 1303.9,162.4 1312.0,162.7 1320.0,164.2 1328.0,166.3 1336.0,164.8 1344.0,165.7 1352.0,166.3 1360.0,163.5 1368.0,157.1 1376.1,153.9 1384.1,151.8 1392.1,151.8 1400.1,149.6 1408.1,145.8 1416.1,140.7 1424.1,137.7 1432.1,133.4 1440.1,130.5" fill="none" stroke="#f0f0f0" stroke-width="1.3" stroke-linejoin="round"/>
<g><path d="M239.0,202 L246.5,194 L254.0,202 L249.7,202 L249.7,210.5 L243.3,210.5 L243.3,202 Z" fill="#ff0000"/><path d="M447.0,358 L454.5,350 L462.0,358 L457.7,358 L457.7,366.5 L451.3,366.5 L451.3,358 Z" fill="#ff0000"/><path d="M535.0,374.6 L542.5,366.6 L550.0,374.6 L545.7,374.6 L545.7,383.1 L539.3,383.1 L539.3,374.6 Z" fill="#ff0000"/><path d="M591.0,371.3 L598.5,363.3 L606.0,371.3 L601.7,371.3 L601.7,379.8 L595.3,379.8 L595.3,371.3 Z" fill="#ff0000"/><path d="M615.0,389.3 L622.5,381.3 L630.0,389.3 L625.7,389.3 L625.7,397.8 L619.3,397.8 L619.3,389.3 Z" fill="#ff0000"/><path d="M952.0,313.3 L959.5,305.3 L967.0,313.3 L962.7,313.3 L962.7,321.8 L956.3,321.8 L956.3,313.3 Z" fill="#ff0000"/><path d="M1168.0,197.6 L1175.5,189.6 L1183.0,197.6 L1178.7,197.6 L1178.7,206.1 L1172.3,206.1 L1172.3,197.6 Z" fill="#ff0000"/><path d="M1264.0,203.6 L1271.5,195.6 L1279.0,203.6 L1274.7,203.6 L1274.7,212.1 L1268.3,212.1 L1268.3,203.6 Z" fill="#ff0000"/><path d="M123.9,88 L129.1,88 L129.1,95.5 L133.5,95.5 L133.5,97 L126.5,103.2 L119.5,97 L119.5,95.5 L123.9,95.5 Z" fill="none" stroke="#00e000" stroke-width="1.5"/><path d="M147.9,40 L153.1,40 L153.1,47.5 L157.5,47.5 L157.5,49 L150.5,55.2 L143.5,49 L143.5,47.5 L147.9,47.5 Z" fill="none" stroke="#00e000" stroke-width="1.5"/><path d="M700.9,281.5 L706.1,281.5 L706.1,289.0 L710.5,289.0 L710.5,290.5 L703.5,296.7 L696.5,290.5 L696.5,289.0 L700.9,289.0 Z" fill="none" stroke="#00e000" stroke-width="1.5"/><path d="M724.9,270.5 L730.1,270.5 L730.1,278.0 L734.5,278.0 L734.5,279.5 L727.5,285.7 L720.5,279.5 L720.5,278.0 L724.9,278.0 Z" fill="none" stroke="#00e000" stroke-width="1.5"/><path d="M748.9,232 L754.1,232 L754.1,239.5 L758.5,239.5 L758.5,241 L751.5,247.2 L744.5,241 L744.5,239.5 L748.9,239.5 Z" fill="none" stroke="#00e000" stroke-width="1.5"/><path d="M916.9,220 L922.1,220 L922.1,227.5 L926.5,227.5 L926.5,229 L919.5,235.2 L912.5,229 L912.5,227.5 L916.9,227.5 Z" fill="none" stroke="#00e000" stroke-width="1.5"/><path d="M1044.9,177.5 L1050.1,177.5 L1050.1,185.0 L1054.5,185.0 L1054.5,186.5 L1047.5,192.7 L1040.5,186.5 L1040.5,185.0 L1044.9,185.0 Z" fill="none" stroke="#00e000" stroke-width="1.5"/><path d="M1156.9,91.4 L1162.1,91.4 L1162.1,98.9 L1166.5,98.9 L1166.5,100.4 L1159.5,106.60000000000001 L1152.5,100.4 L1152.5,98.9 L1156.9,98.9 Z" fill="none" stroke="#00e000" stroke-width="1.5"/><path d="M1381.9,114.8 L1387.1,114.8 L1387.1,122.3 L1391.5,122.3 L1391.5,123.8 L1384.5,130.0 L1377.5,123.8 L1377.5,122.3 L1381.9,122.3 Z" fill="none" stroke="#00e000" stroke-width="1.5"/><path d="M1092.3,78 L1098.7,78 L1098.7,86 L1103.1,86 L1103.1,88 L1095.5,95 L1087.9,88 L1087.9,86 L1092.3,86 Z" fill="#00ff00"/></g>
<g><rect x="4" y="653.0" width="5" height="57.1" fill="#00ffff"/><rect x="12.75" y="635.0" width="3.5" height="74.6" fill="none" stroke="#e83838" stroke-width="1.5"/><rect x="20" y="624.3" width="5" height="85.8" fill="#00ffff"/><rect x="28.75" y="640.0" width="3.5" height="69.6" fill="none" stroke="#e83838" stroke-width="1.5"/><rect x="36.75" y="621.7" width="3.5" height="87.9" fill="none" stroke="#e83838" stroke-width="1.5"/><rect x="44.75" y="629.5" width="3.5" height="80.1" fill="none" stroke="#e83838" stroke-width="1.5"/><rect x="52.75" y="590.4" width="3.5" height="119.2" fill="none" stroke="#e83838" stroke-width="1.5"/><rect x="60" y="582.2" width="5" height="127.9" fill="#00ffff"/><rect x="68" y="609.5" width="5" height="100.6" fill="#00ffff"/><rect x="76.75" y="629.1" width="3.5" height="80.5" fill="none" stroke="#e83838" stroke-width="1.5"/><rect x="84.75" y="632.1" width="3.5" height="77.5" fill="none" stroke="#e83838" stroke-width="1.5"/><rect x="92.75" y="594.7" width="3.5" height="114.9" fill="none" stroke="#e83838" stroke-width="1.5"/><rect x="100.75" y="593.0" width="3.5" height="116.6" fill="none" stroke="#e83838" stroke-width="1.5"/><rect x="108.75" y="576.5" width="3.5" height="133.1" fill="none" stroke="#e83838" stroke-width="1.5"/><rect x="116" y="574.8" width="5" height="135.3" fill="#00ffff"/><rect x="124.75" y="570.8" width="3.5" height="138.8" fill="none" stroke="#e83838" stroke-width="1.5"/><rect x="132.75" y="588.1" width="3.5" height="121.5" fill="none" stroke="#e83838" stroke-width="1.5"/><rect x="140.75" y="566.4" width="3.5" height="143.2" fill="none" stroke="#e83838" stroke-width="1.5"/><rect x="148" y="584.0" width="5" height="126.1" fill="#00ffff"/><rect x="156" y="612.1" width="5" height="98.0" fill="#00ffff"/><rect x="164" y="629.0" width="5" height="81.1" fill="#00ffff"/><rect x="172.75" y="630.4" width="3.5" height="79.2" fill="none" stroke="#e83838" stroke-width="1.5"/><rect x="180.75" y="629.1" width="3.5" height="80.5" fill="none" stroke="#e83838" stroke-width="1.5"/><rect x="188" y="627.2" width="5" height="82.9" fill="#00ffff"/><rect x="196.75" y="612.6" width="3.5" height="97.0" fill="none" stroke="#e83838" stroke-width="1.5"/><rect x="204" y="626.9" width="5" height="83.2" fill="#00ffff"/><rect x="212.75" y="625.1" width="3.5" height="84.5" fill="none" stroke="#e83838" stroke-width="1.5"/><rect x="220" y="623.4" width="5" height="86.7" fill="#00ffff"/><rect x="228" y="636.4" width="5" height="73.7" fill="#00ffff"/><rect x="236" y="637.8" width="5" height="72.3" fill="#00ffff"/><rect x="244.75" y="630.1" width="3.5" height="79.5" fill="none" stroke="#e83838" stroke-width="1.5"/><rect x="252.75" y="609.7" width="3.5" height="99.9" fill="none" stroke="#e83838" stroke-width="1.5"/><rect x="260" y="602.0" width="5" height="108.1" fill="#00ffff"/><rect x="268.75" y="619.2" width="3.5" height="90.4" fill="none" stroke="#e83838" stroke-width="1.5"/><rect x="276" y="615.0" width="5" height="95.1" fill="#00ffff"/><rect x="284" y="612.6" width="5" height="97.5" fill="#00ffff"/><rect x="292.75" y="628.8" width="3.5" height="80.8" fill="none" stroke="#e83838" stroke-width="1.5"/><rect x="300" y="614.2" width="5" height="95.9" fill="#00ffff"/><rect x="308" y="624.3" width="5" height="85.8" fill="#00ffff"/><rect x="316.75" y="641.0" width="3.5" height="68.6" fill="none" stroke="#e83838" stroke-width="1.5"/><rect x="324" y="636.5" width="5" height="73.6" fill="#00ffff"/><rect x="332.75" y="630.1" width="3.5" height="79.5" fill="none" stroke="#e83838" stroke-width="1.5"/><rect x="340.75" y="621.4" width="3.5" height="88.2" fill="none" stroke="#e83838" stroke-width="1.5"/><rect x="348" y="627.6" width="5" height="82.5" fill="#00ffff"/><rect x="356.75" y="630.1" width="3.5" height="79.5" fill="none" stroke="#e83838" stroke-width="1.5"/><rect x="364" y="624.6" width="5" height="85.5" fill="#00ffff"/><rect x="372" y="633.4" width="5" height="76.7" fill="#00ffff"/><rect x="380.75" y="638.1" width="3.5" height="71.5" fill="none" stroke="#e83838" stroke-width="1.5"/><rect x="388" y="624.6" width="5" height="85.5" fill="#00ffff"/><rect x="396" y="642.3" width="5" height="67.8" fill="#00ffff"/><rect x="404" y="635.1" width="5" height="75.0" fill="#00ffff"/><rect x="412.75" y="654.3" width="3.5" height="55.3" fill="none" stroke="#e83838" stroke-width="1.5"/><rect x="420" y="642.3" width="5" height="67.8" fill="#00ffff"/><rect x="428" y="649.8" width="5" height="60.3" fill="#00ffff"/><rect x="436.75" y="653.2" width="3.5" height="56.4" fill="none" stroke="#e83838" stroke-width="1.5"/><rect x="444" y="657.3" width="5" height="52.8" fill="#00ffff"/><rect x="452.75" y="636.8" width="3.5" height="72.8" fill="none" stroke="#e83838" stroke-width="1.5"/><rect x="460" y="652.7" width="5" height="57.4" fill="#00ffff"/><rect x="468.75" y="654.3" width="3.5" height="55.3" fill="none" stroke="#e83838" stroke-width="1.5"/><rect x="476.75" y="651.8" width="3.5" height="57.8" fill="none" stroke="#e83838" stroke-width="1.5"/><rect x="484.75" y="651.8" width="3.5" height="57.8" fill="none" stroke="#e83838" stroke-width="1.5"/><rect x="492" y="639.6" width="5" height="70.5" fill="#00ffff"/><rect x="500" y="651.0" width="5" height="59.1" fill="#00ffff"/><rect x="508.75" y="651.8" width="3.5" height="57.8" fill="none" stroke="#e83838" stroke-width="1.5"/><rect x="516" y="647.2" width="5" height="62.9" fill="#00ffff"/><rect x="524" y="644.0" width="5" height="66.1" fill="#00ffff"/><rect x="532" y="656.0" width="5" height="54.1" fill="#00ffff"/><rect x="540.75" y="648.5" width="3.5" height="61.1" fill="none" stroke="#e83838" stroke-width="1.5"/><rect x="548.75" y="647.7" width="3.5" height="61.9" fill="none" stroke="#e83838" stroke-width="1.5"/><rect x="556.75" y="654.3" width="3.5" height="55.3" fill="none" stroke="#e83838" stroke-width="1.5"/><rect x="564" y="651.0" width="5" height="59.1" fill="#00ffff"/><rect x="572" y="656.0" width="5" height="54.1" fill="#00ffff"/><rect x="580" y="651.0" width="5" height="59.1" fill="#00ffff"/><rect x="588" y="657.3" width="5" height="52.8" fill="#00ffff"/><rect x="596" y="657.3" width="5" height="52.8" fill="#00ffff"/><rect x="604" y="656.8" width="5" height="53.3" fill="#00ffff"/><rect x="612.75" y="665.2" width="3.5" height="44.4" fill="none" stroke="#e83838" stroke-width="1.5"/><rect x="620.75" y="641.0" width="3.5" height="68.6" fill="none" stroke="#e83838" stroke-width="1.5"/><rect x="628" y="646.8" width="5" height="63.3" fill="#00ffff"/><rect x="636.75" y="647.2" width="3.5" height="62.4" fill="none" stroke="#e83838" stroke-width="1.5"/><rect x="644" y="648.5" width="5" height="61.6" fill="#00ffff"/><rect x="652" y="661.9" width="5" height="48.2" fill="#00ffff"/><rect x="660.75" y="665.2" width="3.5" height="44.4" fill="none" stroke="#e83838" stroke-width="1.5"/><rect x="668" y="645.1" width="5" height="65.0" fill="#00ffff"/><rect x="677.75" y="641.0" width="3.5" height="68.6" fill="none" stroke="#e83838" stroke-width="1.5"/><rect x="685" y="624.6" width="5" height="85.5" fill="#00ffff"/><rect x="693" y="636.5" width="5" height="73.6" fill="#00ffff"/><rect x="701" y="641.0" width="5" height="69.1" fill="#00ffff"/><rect x="709.75" y="649.8" width="3.5" height="59.8" fill="none" stroke="#e83838" stroke-width="1.5"/><rect x="717.75" y="641.0" width="3.5" height="68.6" fill="none" stroke="#e83838" stroke-width="1.5"/><rect x="725" y="646.0" width="5" height="64.1" fill="#00ffff"/><rect x="733.75" y="630.6" width="3.5" height="79.0" fill="none" stroke="#e83838" stroke-width="1.5"/><rect x="741.75" y="641.8" width="3.5" height="67.8" fill="none" stroke="#e83838" stroke-width="1.5"/><rect x="749" y="649.8" width="5" height="60.3" fill="#00ffff"/><rect x="757" y="654.3" width="5" height="55.8" fill="#00ffff"/><rect x="765.75" y="662.2" width="3.5" height="47.4" fill="none" stroke="#e83838" stroke-width="1.5"/><rect x="773" y="649.8" width="5" height="60.3" fill="#00ffff"/><rect x="781.75" y="666.5" width="3.5" height="43.1" fill="none" stroke="#e83838" stroke-width="1.5"/><rect x="789" y="666.5" width="5" height="43.6" fill="#00ffff"/><rect x="797" y="664.9" width="5" height="45.2" fill="#00ffff"/><rect x="805.75" y="666.5" width="3.5" height="43.1" fill="none" stroke="#e83838" stroke-width="1.5"/><rect x="813.75" y="650.2" width="3.5" height="59.4" fill="none" stroke="#e83838" stroke-width="1.5"/><rect x="821" y="663.5" width="5" height="46.6" fill="#00ffff"/><rect x="829.75" y="657.7" width="3.5" height="51.9" fill="none" stroke="#e83838" stroke-width="1.5"/><rect x="837" y="661.0" width="5" height="49.1" fill="#00ffff"/><rect x="845.75" y="665.2" width="3.5" height="44.4" fill="none" stroke="#e83838" stroke-width="1.5"/><rect x="853" y="662.7" width="5" height="47.4" fill="#00ffff"/><rect x="861.75" y="669.4" width="3.5" height="40.2" fill="none" stroke="#e83838" stroke-width="1.5"/><rect x="869.75" y="657.7" width="3.5" height="51.9" fill="none" stroke="#e83838" stroke-width="1.5"/><rect x="877.75" y="661.0" width="3.5" height="48.6" fill="none" stroke="#e83838" stroke-width="1.5"/><rect x="885" y="667.7" width="5" height="42.4" fill="#00ffff"/><rect x="893.75" y="668.2" width="3.5" height="41.4" fill="none" stroke="#e83838" stroke-width="1.5"/><rect x="901.75" y="665.2" width="3.5" height="44.4" fill="none" stroke="#e83838" stroke-width="1.5"/><rect x="909" y="666.5" width="5" height="43.6" fill="#00ffff"/><rect x="917.75" y="666.5" width="3.5" height="43.1" fill="none" stroke="#e83838" stroke-width="1.5"/><rect x="925.75" y="659.0" width="3.5" height="50.6" fill="none" stroke="#e83838" stroke-width="1.5"/><rect x="933" y="665.2" width="5" height="44.9" fill="#00ffff"/><rect x="941.75" y="648.5" width="3.5" height="61.1" fill="none" stroke="#e83838" stroke-width="1.5"/><rect x="949" y="666.0" width="5" height="44.1" fill="#00ffff"/><rect x="957.75" y="669.4" width="3.5" height="40.2" fill="none" stroke="#e83838" stroke-width="1.5"/><rect x="965" y="664.4" width="5" height="45.7" fill="#00ffff"/><rect x="973.75" y="666.9" width="3.5" height="42.7" fill="none" stroke="#e83838" stroke-width="1.5"/><rect x="981" y="669.4" width="5" height="40.7" fill="#00ffff"/><rect x="989" y="662.4" width="5" height="47.7" fill="#00ffff"/><rect x="997.75" y="659.4" width="3.5" height="50.2" fill="none" stroke="#e83838" stroke-width="1.5"/><rect x="1005.75" y="656.5" width="3.5" height="53.1" fill="none" stroke="#e83838" stroke-width="1.5"/><rect x="1013.75" y="636.8" width="3.5" height="72.8" fill="none" stroke="#e83838" stroke-width="1.5"/><rect x="1021" y="641.0" width="5" height="69.1" fill="#00ffff"/><rect x="1029" y="653.2" width="5" height="56.9" fill="#00ffff"/><rect x="1037" y="653.2" width="5" height="56.9" fill="#00ffff"/><rect x="1045.75" y="651.8" width="3.5" height="57.8" fill="none" stroke="#e83838" stroke-width="1.5"/><rect x="1053.75" y="653.8" width="3.5" height="55.8" fill="none" stroke="#e83838" stroke-width="1.5"/><rect x="1061.75" y="643.0" width="3.5" height="66.6" fill="none" stroke="#e83838" stroke-width="1.5"/><rect x="1069" y="647.2" width="5" height="62.9" fill="#00ffff"/><rect x="1077" y="645.6" width="5" height="64.5" fill="#00ffff"/><rect x="1085" y="635.1" width="5" height="75.0" fill="#00ffff"/><rect x="1093.75" y="639.8" width="3.5" height="69.8" fill="none" stroke="#e83838" stroke-width="1.5"/><rect x="1101.75" y="636.8" width="3.5" height="72.8" fill="none" stroke="#e83838" stroke-width="1.5"/><rect x="1109.75" y="636.8" width="3.5" height="72.8" fill="none" stroke="#e83838" stroke-width="1.5"/><rect x="1117.75" y="614.2" width="3.5" height="95.4" fill="none" stroke="#e83838" stroke-width="1.5"/><rect x="1125" y="632.6" width="5" height="77.5" fill="#00ffff"/><rect x="1133.75" y="617.2" width="3.5" height="92.4" fill="none" stroke="#e83838" stroke-width="1.5"/><rect x="1141" y="620.1" width="5" height="90.0" fill="#00ffff"/><rect x="1149" y="631.8" width="5" height="78.3" fill="#00ffff"/><rect x="1157" y="641.0" width="5" height="69.1" fill="#00ffff"/><rect x="1165" y="633.4" width="5" height="76.7" fill="#00ffff"/><rect x="1173" y="630.1" width="5" height="80.0" fill="#00ffff"/><rect x="1181" y="645.1" width="5" height="65.0" fill="#00ffff"/><rect x="1189.75" y="645.6" width="3.5" height="64.0" fill="none" stroke="#e83838" stroke-width="1.5"/><rect x="1197" y="642.6" width="5" height="67.5" fill="#00ffff"/><rect x="1205" y="645.1" width="5" height="65.0" fill="#00ffff"/><rect x="1213.75" y="639.3" width="3.5" height="70.3" fill="none" stroke="#e83838" stroke-width="1.5"/><rect x="1221" y="641.8" width="5" height="68.3" fill="#00ffff"/><rect x="1229" y="641.8" width="5" height="68.3" fill="#00ffff"/><rect x="1237.75" y="654.3" width="3.5" height="55.3" fill="none" stroke="#e83838" stroke-width="1.5"/><rect x="1245" y="661.9" width="5" height="48.2" fill="#00ffff"/><rect x="1253" y="663.2" width="5" height="46.9" fill="#00ffff"/><rect x="1261.75" y="665.2" width="3.5" height="44.4" fill="none" stroke="#e83838" stroke-width="1.5"/><rect x="1269.75" y="656.0" width="3.5" height="53.6" fill="none" stroke="#e83838" stroke-width="1.5"/><rect x="1277" y="648.2" width="5" height="61.9" fill="#00ffff"/><rect x="1285.75" y="642.6" width="3.5" height="67.0" fill="none" stroke="#e83838" stroke-width="1.5"/><rect x="1293" y="639.3" width="5" height="70.8" fill="#00ffff"/><rect x="1301" y="650.2" width="5" height="59.9" fill="#00ffff"/><rect x="1309.75" y="657.7" width="3.5" height="51.9" fill="none" stroke="#e83838" stroke-width="1.5"/><rect x="1317" y="651.5" width="5" height="58.6" fill="#00ffff"/><rect x="1325" y="652.7" width="5" height="57.4" fill="#00ffff"/><rect x="1333.75" y="656.0" width="3.5" height="53.6" fill="none" stroke="#e83838" stroke-width="1.5"/><rect x="1342" y="655.2" width="5" height="54.9" fill="#00ffff"/><rect x="1350.75" y="656.0" width="3.5" height="53.6" fill="none" stroke="#e83838" stroke-width="1.5"/><rect x="1358.75" y="655.2" width="3.5" height="54.4" fill="none" stroke="#e83838" stroke-width="1.5"/><rect x="1366.75" y="633.4" width="3.5" height="76.2" fill="none" stroke="#e83838" stroke-width="1.5"/><rect x="1374" y="629.3" width="5" height="80.8" fill="#00ffff"/><rect x="1382" y="644.3" width="5" height="65.8" fill="#00ffff"/><rect x="1390" y="652.7" width="5" height="57.4" fill="#00ffff"/><rect x="1398.75" y="656.0" width="3.5" height="53.6" fill="none" stroke="#e83838" stroke-width="1.5"/><rect x="1406.75" y="654.3" width="3.5" height="55.3" fill="none" stroke="#e83838" stroke-width="1.5"/><rect x="1414.75" y="656.0" width="3.5" height="53.6" fill="none" stroke="#e83838" stroke-width="1.5"/><rect x="1422" y="654.8" width="5" height="55.3" fill="#00ffff"/><rect x="1430.75" y="658.5" width="3.5" height="51.1" fill="none" stroke="#e83838" stroke-width="1.5"/><rect x="1438" y="654.3" width="5" height="55.8" fill="#00ffff"/></g>
<polyline points="6.0,663.6 14.0,660.4 22.0,657.0 30.0,653.0 38.0,649.0 46.1,645.0 54.1,635.9 62.1,627.4 70.1,625.0 78.1,621.5 86.1,619.4 94.1,615.4 102.1,612.2 110.2,605.9 118.2,601.2 126.2,595.3 134.2,595.1 142.2,593.5 150.2,591.0 158.2,589.2 166.2,588.9 174.3,592.5 182.3,596.1 190.3,601.2 198.3,605.0 206.3,610.6 214.3,614.3 222.3,620.0 230.3,625.2 238.3,627.8 246.4,627.9 254.4,625.8 262.4,623.1 270.4,622.3 278.4,622.6 286.4,621.1 294.4,621.5 302.4,620.6 310.5,619.4 318.5,619.7 326.5,620.3 334.5,622.4 342.5,624.3 350.5,625.1 358.5,626.7 366.5,627.9 374.6,628.3 382.6,630.7 390.6,630.7 398.6,630.9 406.6,630.7 414.6,633.1 422.6,635.2 430.6,637.5 438.6,639.8 446.7,643.0 454.7,643.4 462.7,644.8 470.7,647.8 478.7,648.8 486.7,650.4 494.7,649.0 502.7,649.8 510.8,650.0 518.8,649.4 526.8,648.1 534.8,650.0 542.8,649.6 550.8,648.9 558.8,649.2 566.8,649.1 574.9,650.8 582.9,650.8 590.9,651.3 598.9,652.3 606.9,653.6 614.9,654.5 622.9,653.8 630.9,653.7 638.9,653.0 647.0,652.7 655.0,653.3 663.0,654.7 671.0,653.5 679.0,651.9 687.0,648.6 695.0,645.8 703.0,645.8 711.1,646.1 719.1,645.5 727.1,645.2 735.1,642.1 743.1,639.7 751.1,640.2 759.1,641.5 767.1,645.3 775.2,646.6 783.2,649.2 791.2,650.9 799.2,653.2 807.2,655.3 815.2,657.2 823.2,659.4 831.2,660.2 839.2,660.9 847.3,661.2 855.3,662.5 863.3,662.8 871.3,661.9 879.3,661.5 887.3,661.6 895.3,663.4 903.3,663.6 911.4,664.5 919.4,665.0 927.4,664.4 935.4,664.6 943.4,662.6 951.4,663.4 959.4,664.2 967.4,663.9 975.5,663.8 983.5,664.2 991.5,663.8 999.5,663.1 1007.5,662.8 1015.5,660.0 1023.5,659.2 1031.5,657.9 1039.5,656.3 1047.6,655.1 1055.6,653.8 1063.6,651.1 1071.6,649.6 1079.6,648.2 1087.6,646.1 1095.6,646.4 1103.6,646.0 1111.7,644.3 1119.7,640.4 1127.7,638.5 1135.7,634.8 1143.7,632.5 1151.7,631.0 1159.7,630.5 1167.7,630.4 1175.8,629.4 1183.8,630.2 1191.8,631.1 1199.8,634.0 1207.8,635.2 1215.8,637.4 1223.8,639.6 1231.8,640.6 1239.8,641.9 1247.9,644.8 1255.9,648.1 1263.9,650.1 1271.9,651.1 1279.9,651.7 1287.9,651.4 1295.9,651.4 1303.9,652.3 1312.0,653.9 1320.0,653.6 1328.0,652.7 1336.0,651.9 1344.0,650.9 1352.0,650.9 1360.0,651.6 1368.0,650.7 1376.1,649.7 1384.1,649.1 1392.1,648.6 1400.1,649.1 1408.1,649.2 1416.1,649.2 1424.1,649.2 1432.1,649.5 1440.1,649.4" fill="none" stroke="#ffff00" stroke-width="1.3" stroke-linejoin="round"/>
<polyline points="6.0,657.2 14.0,650.8 22.0,645.8 30.0,641.0 38.0,634.8 46.1,630.1 54.1,621.2 62.1,612.8 70.1,606.7 78.1,608.1 86.1,608.7 94.1,609.5 102.1,611.7 110.2,605.1 118.2,594.2 126.2,582.0 134.2,580.6 142.2,575.3 150.2,576.8 158.2,584.3 166.2,595.9 174.3,604.4 182.3,616.9 190.3,625.6 198.3,625.7 206.3,625.2 214.3,624.2 222.3,623.0 230.3,624.9 238.3,629.9 246.4,630.6 254.4,627.5 262.4,623.2 270.4,619.8 278.4,615.2 286.4,611.7 294.4,615.5 302.4,618.0 310.5,619.0 318.5,624.2 326.5,629.0 334.5,629.2 342.5,630.7 350.5,631.3 358.5,629.1 366.5,626.8 374.6,627.4 382.6,630.8 390.6,630.2 398.6,632.6 406.6,634.7 414.6,638.9 422.6,639.7 430.6,644.8 438.6,646.9 446.7,651.4 454.7,647.9 462.7,650.0 470.7,650.9 478.7,650.6 486.7,649.5 494.7,650.0 502.7,649.7 510.8,649.2 518.8,648.3 526.8,646.7 534.8,650.0 542.8,649.5 550.8,648.7 558.8,650.1 566.8,651.5 574.9,651.5 582.9,652.0 590.9,653.9 598.9,654.5 606.9,655.7 614.9,657.5 622.9,655.5 630.9,653.4 638.9,651.4 647.0,649.7 655.0,649.1 663.0,653.9 671.0,653.6 679.0,652.3 687.0,647.6 695.0,642.5 703.0,637.6 711.1,638.6 719.1,638.6 727.1,642.9 735.1,641.7 743.1,641.8 751.1,641.8 759.1,644.5 767.1,647.7 775.2,651.6 783.2,656.5 791.2,659.9 799.2,662.0 807.2,662.8 815.2,662.9 823.2,662.3 831.2,660.6 839.2,659.8 847.3,659.5 855.3,662.0 863.3,663.2 871.3,663.2 879.3,663.2 887.3,663.7 895.3,664.8 903.3,664.0 911.4,665.7 919.4,666.8 927.4,665.1 935.4,664.5 943.4,661.1 951.4,661.0 959.4,661.6 967.4,662.7 975.5,663.0 983.5,667.2 991.5,666.5 999.5,664.5 1007.5,662.9 1015.5,656.9 1023.5,651.2 1031.5,649.4 1039.5,648.1 1047.6,647.2 1055.6,650.6 1063.6,651.0 1071.6,649.8 1079.6,648.3 1087.6,644.9 1095.6,642.1 1103.6,640.9 1111.7,638.8 1119.7,632.5 1127.7,632.0 1135.7,627.5 1143.7,624.2 1151.7,623.2 1159.7,628.5 1167.7,628.7 1175.8,631.3 1183.8,636.3 1191.8,639.0 1199.8,639.4 1207.8,641.7 1215.8,643.5 1223.8,642.9 1231.8,642.1 1239.8,644.5 1247.9,647.8 1255.9,652.6 1263.9,657.3 1271.9,660.1 1279.9,658.9 1287.9,655.0 1295.9,650.3 1303.9,647.3 1312.0,647.6 1320.0,648.3 1328.0,650.3 1336.0,653.6 1344.0,654.6 1352.0,654.3 1360.0,655.0 1368.0,651.2 1376.1,645.8 1384.1,643.6 1392.1,643.0 1400.1,643.1 1408.1,647.3 1416.1,652.7 1424.1,654.8 1432.1,655.9 1440.1,655.6" fill="none" stroke="#f0f0f0" stroke-width="1.3" stroke-linejoin="round"/>
<polyline points="6.0,787.0 14.0,780.8 22.0,777.3 30.0,775.5 38.0,774.6 46.1,772.9 54.1,771.1 62.1,770.2 70.1,772.9 78.1,774.6 86.1,775.5 94.1,774.6 102.1,772.9 110.2,772.0 118.2,771.1 126.2,772.9 134.2,772.9 142.2,772.0 150.2,775.5 158.2,781.7 166.2,791.3 174.3,801.0 182.3,807.2 190.3,811.6 198.3,815.1 206.3,817.7 214.3,823.0 222.3,829.2 230.3,834.5 238.3,839.8 246.4,838.9 254.4,828.3 262.4,819.5 270.4,808.9 278.4,798.4 286.4,793.1 294.4,791.3 302.4,793.1 310.5,803.7 318.5,816.0 326.5,823.9 334.5,826.5 342.5,826.5 350.5,825.7 358.5,823.0 366.5,820.4 374.6,817.7 382.6,812.5 390.6,813.3 398.6,821.3 406.6,829.2 414.6,837.1 422.6,842.4 430.6,847.7 438.6,853.0 446.7,854.7 454.7,855.6 462.7,855.6 470.7,854.7 478.7,849.4 486.7,842.4 494.7,840.6 502.7,840.6 510.8,838.0 518.8,835.4 526.8,838.9 534.8,842.4 542.8,838.9 550.8,832.7 558.8,826.5 566.8,821.3 574.9,816.9 582.9,816.0 590.9,819.5 598.9,826.5 606.9,831.0 614.9,835.4 622.9,831.0 630.9,825.7 638.9,819.5 647.0,816.0 655.0,815.1 663.0,813.3 671.0,810.7 679.0,805.4 687.0,799.3 695.0,795.7 703.0,794.0 711.1,794.0 719.1,790.5 727.1,788.7 735.1,787.8 743.1,782.5 751.1,780.8 759.1,784.3 767.1,786.9 775.2,795.7 783.2,804.5 791.2,814.2 799.2,821.3 807.2,827.4 815.2,824.8 823.2,821.3 831.2,813.3 839.2,809.8 847.3,808.1 855.3,810.7 863.3,809.8 871.3,805.4 879.3,801.0 887.3,793.1 895.3,787.8 903.3,784.3 911.4,784.3 919.4,784.3 927.4,787.8 935.4,800.1 943.4,813.3 951.4,821.3 959.4,824.8 967.4,827.4 975.5,826.5 983.5,825.7 991.5,823.0 999.5,812.5 1007.5,805.4 1015.5,798.4 1023.5,791.3 1031.5,786.9 1039.5,784.3 1047.6,781.7 1055.6,780.8 1063.6,780.8 1071.6,781.7 1079.6,785.2 1087.6,790.5 1095.6,789.6 1103.6,786.1 1111.7,781.7 1119.7,779.9 1127.7,779.9 1135.7,776.4 1143.7,773.7 1151.7,775.5 1159.7,778.1 1167.7,780.8 1175.8,789.6 1183.8,798.4 1191.8,803.7 1199.8,807.2 1207.8,814.2 1215.8,816.9 1223.8,826.5 1231.8,835.4 1239.8,840.6 1247.9,845.9 1255.9,850.3 1263.9,853.0 1271.9,849.4 1279.9,838.9 1287.9,826.5 1295.9,819.5 1303.9,815.1 1312.0,811.6 1320.0,810.7 1328.0,809.8 1336.0,812.5 1344.0,814.2 1352.0,816.0 1360.0,811.6 1368.0,805.4 1376.1,798.4 1384.1,795.7 1392.1,795.7 1400.1,795.7 1408.1,792.2 1416.1,788.7 1424.1,786.9 1432.1,786.1 1440.1,785.2" fill="none" stroke="#ffff00" stroke-width="1.3" stroke-linejoin="round"/>
<polyline points="6.0,775.5 14.0,769.3 22.0,771.1 30.0,771.1 38.0,774.6 46.1,771.1 54.1,767.6 62.1,770.2 70.1,776.4 78.1,779.9 86.1,776.4 94.1,774.6 102.1,770.2 110.2,767.6 118.2,768.5 126.2,777.3 134.2,772.9 142.2,771.1 150.2,780.8 158.2,796.6 166.2,813.3 174.3,815.1 182.3,816.0 190.3,821.3 198.3,820.4 206.3,822.1 214.3,830.1 222.3,842.4 230.3,845.0 238.3,851.2 246.4,837.1 254.4,807.2 262.4,796.6 270.4,786.1 278.4,779.9 286.4,784.3 294.4,787.8 302.4,796.6 310.5,812.5 318.5,826.5 326.5,839.8 334.5,835.4 342.5,829.2 350.5,827.4 358.5,816.9 366.5,814.2 374.6,816.0 382.6,801.9 390.6,817.7 398.6,837.1 406.6,844.2 414.6,851.2 422.6,854.7 430.6,858.2 438.6,860.9 446.7,863.5 454.7,856.5 462.7,855.6 470.7,854.7 478.7,840.6 486.7,830.1 494.7,829.2 502.7,838.0 510.8,832.7 518.8,829.2 526.8,842.4 534.8,851.2 542.8,833.6 550.8,823.0 558.8,817.7 566.8,810.7 574.9,807.2 582.9,813.3 590.9,828.3 598.9,844.2 606.9,845.9 614.9,833.6 622.9,823.9 630.9,814.2 638.9,803.7 647.0,809.8 655.0,814.2 663.0,811.6 671.0,808.9 679.0,797.5 687.0,788.7 695.0,786.9 703.0,791.3 711.1,793.1 719.1,786.1 727.1,785.2 735.1,777.3 743.1,773.7 751.1,782.5 759.1,791.3 767.1,794.9 775.2,810.7 783.2,821.3 791.2,831.8 799.2,835.4 807.2,837.1 815.2,817.7 823.2,807.2 831.2,799.3 839.2,806.3 847.3,803.7 855.3,815.1 863.3,813.3 871.3,798.4 879.3,787.8 887.3,779.9 895.3,775.5 903.3,777.3 911.4,780.8 919.4,783.4 927.4,794.9 935.4,819.5 943.4,828.3 951.4,837.1 959.4,833.6 967.4,837.1 975.5,824.8 983.5,824.8 991.5,816.9 999.5,802.8 1007.5,795.7 1015.5,782.5 1023.5,780.8 1031.5,779.9 1039.5,778.1 1047.6,776.9 1055.6,779.0 1063.6,778.1 1071.6,783.4 1079.6,791.3 1087.6,801.9 1095.6,787.8 1103.6,779.9 1111.7,773.7 1119.7,775.1 1127.7,776.4 1135.7,771.1 1143.7,771.1 1151.7,777.3 1159.7,779.9 1167.7,784.3 1175.8,800.1 1183.8,818.6 1191.8,816.0 1199.8,814.2 1207.8,825.7 1215.8,827.4 1223.8,840.6 1231.8,850.3 1239.8,849.4 1247.9,855.6 1255.9,860.9 1263.9,853.8 1271.9,837.1 1279.9,816.0 1287.9,808.1 1295.9,805.4 1303.9,803.7 1312.0,805.4 1320.0,808.9 1328.0,810.7 1336.0,809.8 1344.0,816.9 1352.0,819.5 1360.0,800.1 1368.0,789.6 1376.1,788.7 1384.1,791.3 1392.1,795.7 1400.1,795.7 1408.1,786.9 1416.1,781.7 1424.1,784.3 1432.1,781.1 1440.1,784.3" fill="none" stroke="#f0f0f0" stroke-width="1.3" stroke-linejoin="round"/>
<polyline points="6.0,750.0 14.0,746.4 22.0,757.9 30.0,763.2 38.0,775.5 46.1,762.3 54.1,757.9 62.1,768.5 70.1,785.2 78.1,788.7 86.1,777.3 94.1,775.5 102.1,762.3 110.2,757.9 118.2,765.8 126.2,787.0 134.2,769.3 142.2,766.3 150.2,796.6 158.2,823.0 166.2,855.6 174.3,844.2 182.3,836.8 190.3,840.6 198.3,833.6 206.3,835.4 214.3,845.0 222.3,870.6 230.3,869.7 238.3,875.0 246.4,817.7 254.4,772.9 262.4,758.8 270.4,745.6 278.4,742.0 286.4,766.7 294.4,779.0 302.4,794.9 310.5,820.4 318.5,853.0 326.5,885.5 334.5,861.8 342.5,837.1 350.5,831.0 358.5,806.3 366.5,801.9 374.6,808.9 382.6,778.1 390.6,813.3 398.6,840.6 406.6,868.8 414.6,875.0 422.6,882.9 430.6,878.5 438.6,878.5 446.7,881.1 454.7,858.2 462.7,856.5 470.7,855.6 478.7,833.6 486.7,797.5 494.7,819.5 502.7,838.0 510.8,820.4 518.8,816.9 526.8,849.4 534.8,867.0 542.8,826.5 550.8,802.8 558.8,794.9 566.8,786.1 574.9,784.3 582.9,801.9 590.9,828.3 598.9,851.2 606.9,871.4 614.9,866.2 622.9,808.9 630.9,793.1 638.9,775.5 647.0,798.4 655.0,813.3 663.0,808.9 671.0,801.0 679.0,780.8 687.0,763.2 695.0,766.7 703.0,784.3 711.1,787.8 719.1,773.7 727.1,777.3 735.1,761.4 743.1,757.9 751.1,781.7 759.1,804.5 767.1,804.5 775.2,840.6 783.2,856.5 791.2,867.9 799.2,867.9 807.2,861.8 815.2,812.5 823.2,787.8 831.2,772.0 839.2,800.1 847.3,795.7 855.3,825.7 863.3,812.5 871.3,780.8 879.3,761.4 887.3,757.9 895.3,750.0 903.3,763.2 911.4,780.8 919.4,783.4 927.4,805.4 935.4,863.5 943.4,867.9 951.4,873.2 959.4,856.5 967.4,857.4 975.5,824.8 983.5,822.1 991.5,801.9 999.5,774.6 1007.5,765.8 1015.5,748.2 1023.5,756.1 1031.5,761.4 1039.5,764.9 1047.6,764.9 1055.6,776.4 1063.6,772.9 1071.6,779.9 1079.6,797.5 1087.6,827.4 1095.6,788.7 1103.6,773.7 1111.7,757.0 1119.7,765.8 1127.7,770.2 1135.7,760.5 1143.7,761.4 1151.7,777.3 1159.7,782.5 1167.7,788.7 1175.8,817.7 1183.8,861.8 1191.8,840.6 1199.8,831.0 1207.8,849.4 1215.8,845.9 1223.8,865.3 1231.8,884.6 1239.8,867.9 1247.9,874.1 1255.9,882.0 1263.9,868.8 1271.9,823.0 1279.9,791.3 1287.9,767.6 1295.9,771.1 1303.9,780.8 1312.0,786.9 1320.0,796.6 1328.0,808.9 1336.0,806.3 1344.0,826.5 1352.0,831.0 1360.0,781.7 1368.0,757.0 1376.1,769.3 1384.1,780.8 1392.1,798.4 1400.1,792.2 1408.1,772.9 1416.1,764.9 1424.1,776.4 1432.1,773.7 1440.1,785.2" fill="none" stroke="#ff00ff" stroke-width="1.3" stroke-linejoin="round"/>
<g shape-rendering="crispEdges"><rect x="0" y="0" width="1496" height="7" fill="url(#topg)"/><rect x="581" y="0" width="56" height="5.5" fill="#e2e2e2"/><rect x="648" y="0" width="57" height="5.5" fill="#e2e2e2"/><rect x="580" y="0" width="1" height="5.5" fill="#a8a8a8"/><rect x="637" y="0" width="1" height="5.5" fill="#ffffff"/><rect x="647" y="0" width="1" height="5.5" fill="#a8a8a8"/><rect x="705" y="0" width="1" height="5.5" fill="#ffffff"/><rect x="0" y="0" width="2" height="892" fill="#e6e6e6"/><rect x="1467" y="8" width="2" height="884" fill="#820000"/><rect x="2" y="536" width="1494" height="2" fill="#820000"/><rect x="2" y="711" width="1494" height="2" fill="#820000"/><rect x="2" y="888" width="1494" height="2" fill="#820000"/><rect x="1469" y="689" width="27" height="1.5" fill="#820000"/><rect x="1469" y="886" width="27" height="2" fill="#820000"/><rect x="1469" y="30" width="7" height="2" fill="#820000"/><rect x="1469" y="77" width="7" height="2" fill="#820000"/><rect x="1469" y="125" width="7" height="2" fill="#820000"/><rect x="1469" y="171" width="7" height="2" fill="#820000"/><rect x="1469" y="219" width="7" height="2" fill="#820000"/><rect x="1469" y="266" width="7" height="2" fill="#820000"/><rect x="1469" y="312" width="7" height="2" fill="#820000"/><rect x="1469" y="360" width="7" height="2" fill="#820000"/><rect x="1469" y="407" width="7" height="2" fill="#820000"/><rect x="1469" y="453" width="7" height="2" fill="#820000"/><rect x="1469" y="501" width="7" height="2" fill="#820000"/><rect x="1469" y="53" width="4" height="2" fill="#820000"/><rect x="1469" y="101" width="4" height="2" fill="#820000"/><rect x="1469" y="148" width="4" height="2" fill="#820000"/><rect x="1469" y="195" width="4" height="2" fill="#820000"/><rect x="1469" y="243" width="4" height="2" fill="#820000"/><rect x="1469" y="289" width="4" height="2" fill="#820000"/><rect x="1469" y="336" width="4" height="2" fill="#820000"/><rect x="1469" y="383" width="4" height="2" fill="#820000"/><rect x="1469" y="430" width="4" height="2" fill="#820000"/><rect x="1469" y="477" width="4" height="2" fill="#820000"/><rect x="1469" y="587" width="7" height="2" fill="#820000"/><rect x="1469" y="627" width="7" height="2" fill="#820000"/><rect x="1469" y="668" width="7" height="2" fill="#820000"/><rect x="1469" y="607" width="4" height="2" fill="#820000"/><rect x="1469" y="648" width="4" height="2" fill="#820000"/><rect x="84" y="890" width="2" height="2" fill="#820000"/><rect x="126" y="890" width="2" height="2" fill="#820000"/><rect x="168" y="890" width="2" height="2" fill="#820000"/><rect x="210" y="890" width="2" height="2" fill="#820000"/><rect x="252" y="890" width="2" height="2" fill="#820000"/><rect x="294" y="890" width="2" height="2" fill="#820000"/><rect x="336" y="890" width="2" height="2" fill="#820000"/><rect x="378" y="890" width="2" height="2" fill="#820000"/><rect x="420" y="890" width="2" height="2" fill="#820000"/><rect x="461" y="890" width="2" height="2" fill="#820000"/><rect x="501" y="890" width="2" height="2" fill="#820000"/><rect x="540" y="890" width="2" height="2" fill="#820000"/><rect x="581" y="890" width="2" height="2" fill="#820000"/><rect x="618" y="890" width="2" height="2" fill="#820000"/><rect x="657" y="890" width="2" height="2" fill="#820000"/><rect x="695" y="890" width="2" height="2" fill="#820000"/><rect x="732" y="890" width="2" height="2" fill="#820000"/><rect x="779" y="890" width="2" height="2" fill="#820000"/><rect x="825" y="890" width="2" height="2" fill="#820000"/><rect x="870" y="890" width="2" height="2" fill="#820000"/><rect x="917" y="890" width="2" height="2" fill="#820000"/><rect x="960" y="890" width="2" height="2" fill="#820000"/><rect x="1006" y="890" width="2" height="2" fill="#820000"/><rect x="1049" y="890" width="2" height="2" fill="#820000"/><rect x="1092" y="890" width="2" height="2" fill="#820000"/><rect x="1131" y="890" width="2" height="2" fill="#820000"/><rect x="1173" y="890" width="2" height="2" fill="#820000"/><rect x="1212" y="890" width="2" height="2" fill="#820000"/><rect x="1253" y="890" width="2" height="2" fill="#820000"/><rect x="1289" y="890" width="2" height="2" fill="#820000"/><rect x="1325" y="890" width="2" height="2" fill="#820000"/><rect x="1361" y="890" width="2" height="2" fill="#820000"/><rect x="1397" y="890" width="2" height="2" fill="#820000"/><rect x="1433" y="890" width="2" height="2" fill="#820000"/></g>
<path d="M1435,14.5 L1443,22 L1435,30 L1427,22 Z" fill="none" stroke="#820000" stroke-width="1.6"/>
<rect x="1450" y="15" width="14" height="15" fill="none" stroke="#820000" stroke-width="1.6"/>
<line x1="1460" y1="15" x2="1460" y2="30" stroke="#820000" stroke-width="1.6"/>
<g font-family="Liberation Sans, sans-serif"><text x="211.4" y="27.2" fill="#d4d4d4" font-size="18" textLength="114.6" lengthAdjust="spacingAndGlyphs">EXPMA(12,50)</text><text x="335.8" y="27.2" fill="#d4d4d4" font-size="18" textLength="119.2" lengthAdjust="spacingAndGlyphs">EXP1: 1693.96</text><text x="465" y="27.2" fill="#ffff00" font-size="18" textLength="119.3" lengthAdjust="spacingAndGlyphs">EXP2: 1658.90</text><text x="2.5" y="555.5" fill="#d4d4d4" font-size="18" textLength="190.5" lengthAdjust="spacingAndGlyphs">VOLUME: 65839680.00</text><text x="202" y="555.5" fill="#d4d4d4" font-size="18" textLength="151" lengthAdjust="spacingAndGlyphs">MA5: 64790584.00</text><text x="362" y="555.5" fill="#ffff00" font-size="18" textLength="162" lengthAdjust="spacingAndGlyphs">MA10: 72506032.00</text><text x="3" y="731" fill="#d4d4d4" font-size="18" textLength="85" lengthAdjust="spacingAndGlyphs">KDJ(9,3,3)</text><text x="97" y="731" fill="#d4d4d4" font-size="18" textLength="64" lengthAdjust="spacingAndGlyphs">K: 77.81</text><text x="172" y="731" fill="#ffff00" font-size="18" textLength="66" lengthAdjust="spacingAndGlyphs">D: 77.81</text><text x="247" y="731" fill="#ff00ff" font-size="18" textLength="65" lengthAdjust="spacingAndGlyphs">J: 77.82</text><text x="307.8" y="53" fill="#d4d4d4" font-size="18" textLength="64" lengthAdjust="spacingAndGlyphs">1792.03</text><text x="25" y="458" fill="#d4d4d4" font-size="18" textLength="67" lengthAdjust="spacingAndGlyphs">1355.78</text><text x="1405" y="156" fill="#d4d4d4" font-size="18" textLength="62" lengthAdjust="spacingAndGlyphs">1688.71</text><text x="1472" y="706" fill="#820000" font-size="18" textLength="30" lengthAdjust="spacingAndGlyphs">X17</text><text x="1484" y="766" fill="#820000" font-size="18" textLength="10" lengthAdjust="spacingAndGlyphs">1</text><text x="1489" y="595" fill="#820000" font-size="18" textLength="10" lengthAdjust="spacingAndGlyphs">1</text><text x="1489" y="635.5" fill="#820000" font-size="18" textLength="10" lengthAdjust="spacingAndGlyphs">1</text></g>
<path d="M191.1,20 L198.6,12 L206.1,20 L201.79999999999998,20 L201.79999999999998,28.5 L195.4,28.5 L195.4,20 Z" fill="#ff0000"/>
<polyline points="287,38 290,44 303,46" fill="none" stroke="#d4d4d4" stroke-width="1.3"/>
<line x1="8" y1="449.5" x2="22.5" y2="449.5" stroke="#d4d4d4" stroke-width="1.3"/>
<path d="M7,449.5 L12,445.5 M7,449.5 L12,453.5" stroke="#d4d4d4" stroke-width="1.3"/>
<line x1="1400" y1="135" x2="1468" y2="135" stroke="#a8a8a8" stroke-width="1.5"/>
<path d="M3.4,17.6 L8.6,12.6 L13.8,17.6 M5.2,19.4 L12.0,19.4 M5.6,19.4 L5.6,29.7 L13.6,29.7 L13.6,26.0 M11.8,19.4 L11.8,25.0 L8.0,25.0 M16.2,16.0 L16.2,25.6 M19.5,12.8 L19.5,30.0 L17.2,30.0 M26.5,12.8 L26.5,29.7 M32.7,12.8 L32.7,29.7 M21.9,18.6 L25.2,22.4 M37.7,18.6 L34.5,22.4 M21.9,29.9 L37.9,29.9 M39.7,17.6 L45.3,17.6 M43.3,12.8 L43.3,30.0 M42.6,20.8 L39.7,24.0 M44.0,21.0 L45.3,22.0 M55.8,13.0 L48.1,15.2 L48.1,25.0 L45.0,30.0 M48.1,18.6 L55.8,18.6 L52.0,25.5 L48.5,30.0 M50.5,23.5 L55.8,30.0 M57.4,17.6 L63.4,17.6 M61.2,12.8 L61.2,29.7 L59.0,29.7 M57.4,23.8 L63.4,21.8 M65.6,12.8 L65.6,19.2 L73.9,19.2 L73.9,17.6 M73.5,12.8 L66.6,16.4 M65.6,21.6 L73.9,21.6 L73.9,29.7 L65.6,29.7 L65.6,21.6 M65.6,24.4 L73.9,24.4 M65.6,27.0 L73.9,27.0 M81.1,14.0 L77.6,22.0 L81.1,30.0 M83.9,14.0 L95.7,14.0 L95.7,29.7 L83.9,29.7 L83.9,14.0 M83.9,21.2 L95.7,21.2 M103.0,13.0 L100.0,18.0 L104.8,18.0 L100.0,23.5 L105.5,23.5 M99.5,28.2 L105.5,26.0 M107.6,17.8 L115.7,17.2 M107.6,20.8 L115.7,20.2 M110.8,13.2 L112.5,22.0 L115.7,30.0 L115.9,26.8 M114.9,23.2 L105.6,30.0 M113.2,13.2 L114.4,14.8 M119.4,26.6 L120.2,27.4 M125.3,12.8 L126.5,14.8 M135.1,12.8 L133.9,14.8 M122.1,16.2 L138.1,16.2 M124.5,30.0 L124.5,19.6 L129.7,19.6 L129.7,30.0 L128.2,30.0 M124.5,23.2 L129.7,23.2 M124.5,26.2 L129.7,26.2 M133.3,19.6 L133.3,26.8 M136.5,18.0 L136.5,30.0 L134.5,30.0 M142.0,14.0 L140.4,16.4 M143.2,13.0 L156.5,13.0 M144.0,16.0 L153.6,16.0 L153.6,22.0 L144.0,22.0 L144.0,16.0 M144.0,19.0 L153.6,19.0 M145.0,23.6 L155.0,23.6 L142.0,30.0 M147.0,26.2 L156.5,30.0 M141.6,30.0 L145.6,30.0 M152.0,30.0 L156.5,30.0 M158.0,17.6 L163.7,17.6 M161.7,12.8 L161.7,30.0 M161.7,20.8 L158.0,24.0 M164.9,14.4 L172.9,14.4 L172.9,21.2 L170.9,24.0 L164.1,30.0 M166.1,15.2 L166.5,22.0 L174.1,30.0 M176.5,14.0 L180.3,22.0 L176.5,30.0 " fill="none" stroke="#d4d4d4" stroke-width="1.15" stroke-linejoin="miter"/>
</svg>
</body></html>
